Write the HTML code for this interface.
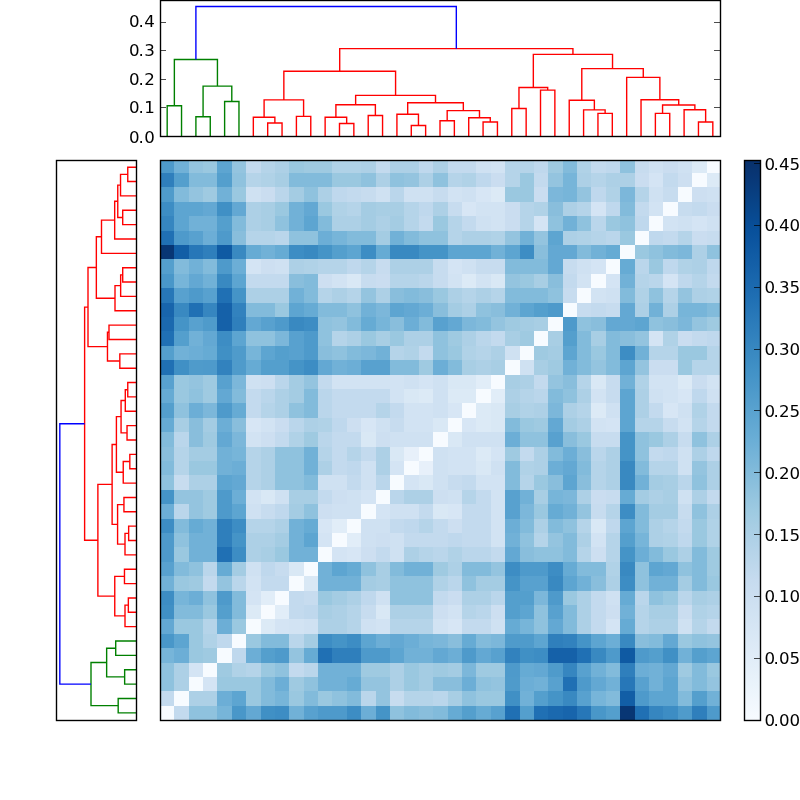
<!DOCTYPE html>
<html><head><meta charset="utf-8"><style>
html,body{margin:0;padding:0;background:#fff;}
body{width:800px;height:800px;overflow:hidden;}
svg{display:block;will-change:transform;}
text{font-family:"DejaVu Sans","Liberation Sans",sans-serif;font-size:16.67px;fill:#000;}
</style></head><body>
<svg width="800" height="800" viewBox="0 0 800 800">
<defs><linearGradient id="cb" x1="0" y1="1" x2="0" y2="0"><stop offset="0.0000" stop-color="#f7fbff"/><stop offset="0.0312" stop-color="#f1f7fd"/><stop offset="0.0625" stop-color="#eaf3fb"/><stop offset="0.0938" stop-color="#e4eff9"/><stop offset="0.1250" stop-color="#deebf7"/><stop offset="0.1562" stop-color="#d8e7f5"/><stop offset="0.1875" stop-color="#d2e3f3"/><stop offset="0.2188" stop-color="#ccdff1"/><stop offset="0.2500" stop-color="#c6dbef"/><stop offset="0.2812" stop-color="#bcd7eb"/><stop offset="0.3125" stop-color="#b2d2e8"/><stop offset="0.3438" stop-color="#a8cee4"/><stop offset="0.3750" stop-color="#9dcae1"/><stop offset="0.4062" stop-color="#91c3de"/><stop offset="0.4375" stop-color="#84bcdb"/><stop offset="0.4688" stop-color="#77b5d9"/><stop offset="0.5000" stop-color="#6aaed6"/><stop offset="0.5312" stop-color="#60a7d2"/><stop offset="0.5625" stop-color="#56a0ce"/><stop offset="0.5938" stop-color="#4b98ca"/><stop offset="0.6250" stop-color="#4191c6"/><stop offset="0.6562" stop-color="#3989c1"/><stop offset="0.6875" stop-color="#3181bd"/><stop offset="0.7188" stop-color="#2979b9"/><stop offset="0.7500" stop-color="#2070b4"/><stop offset="0.7812" stop-color="#1a68ae"/><stop offset="0.8125" stop-color="#1460a8"/><stop offset="0.8438" stop-color="#0e58a2"/><stop offset="0.8750" stop-color="#08509b"/><stop offset="0.9062" stop-color="#08488e"/><stop offset="0.9375" stop-color="#084082"/><stop offset="0.9688" stop-color="#083776"/><stop offset="1.0000" stop-color="#08306b"/></linearGradient></defs>
<rect x="0" y="0" width="800" height="800" fill="#fff"/>
<g shape-rendering="crispEdges">
<rect x="160" y="160" width="14" height="13" fill="#4e9acb"/>
<rect x="174" y="160" width="15" height="13" fill="#71b1d7"/>
<rect x="189" y="160" width="14" height="13" fill="#94c4df"/>
<rect x="203" y="160" width="14" height="13" fill="#9ac8e0"/>
<rect x="217" y="160" width="15" height="13" fill="#5da5d1"/>
<rect x="232" y="160" width="14" height="13" fill="#94c4df"/>
<rect x="246" y="160" width="15" height="13" fill="#c3daee"/>
<rect x="261" y="160" width="14" height="13" fill="#b5d4e9"/>
<rect x="275" y="160" width="14" height="13" fill="#add0e6"/>
<rect x="289" y="160" width="15" height="13" fill="#9ac8e0"/>
<rect x="304" y="160" width="14" height="13" fill="#9fcae1"/>
<rect x="318" y="160" width="14" height="13" fill="#9fcae1"/>
<rect x="332" y="160" width="15" height="13" fill="#b0d2e7"/>
<rect x="347" y="160" width="14" height="13" fill="#b0d2e7"/>
<rect x="361" y="160" width="15" height="13" fill="#add0e6"/>
<rect x="376" y="160" width="14" height="13" fill="#c3daee"/>
<rect x="390" y="160" width="14" height="13" fill="#add0e6"/>
<rect x="404" y="160" width="15" height="13" fill="#add0e6"/>
<rect x="419" y="160" width="14" height="13" fill="#bfd8ed"/>
<rect x="433" y="160" width="15" height="13" fill="#add0e6"/>
<rect x="448" y="160" width="14" height="13" fill="#c3daee"/>
<rect x="462" y="160" width="14" height="13" fill="#c3daee"/>
<rect x="476" y="160" width="15" height="13" fill="#cfe1f2"/>
<rect x="491" y="160" width="14" height="13" fill="#d2e3f3"/>
<rect x="505" y="160" width="15" height="13" fill="#b5d4e9"/>
<rect x="520" y="160" width="14" height="13" fill="#b5d4e9"/>
<rect x="534" y="160" width="14" height="13" fill="#bfd8ed"/>
<rect x="548" y="160" width="15" height="13" fill="#9fcae1"/>
<rect x="563" y="160" width="14" height="13" fill="#82bbdb"/>
<rect x="577" y="160" width="14" height="13" fill="#b0d2e7"/>
<rect x="591" y="160" width="15" height="13" fill="#c3daee"/>
<rect x="606" y="160" width="14" height="13" fill="#bfd8ed"/>
<rect x="620" y="160" width="15" height="13" fill="#8fc2de"/>
<rect x="635" y="160" width="14" height="13" fill="#c7dcef"/>
<rect x="649" y="160" width="14" height="13" fill="#cfe1f2"/>
<rect x="663" y="160" width="15" height="13" fill="#caddf0"/>
<rect x="678" y="160" width="14" height="13" fill="#cfe1f2"/>
<rect x="692" y="160" width="15" height="13" fill="#dceaf6"/>
<rect x="707" y="160" width="13" height="13" fill="#f7fbff"/>
<rect x="160" y="173" width="14" height="14" fill="#2f7fbc"/>
<rect x="174" y="173" width="15" height="14" fill="#549fcd"/>
<rect x="189" y="173" width="14" height="14" fill="#82bbdb"/>
<rect x="203" y="173" width="14" height="14" fill="#82bbdb"/>
<rect x="217" y="173" width="15" height="14" fill="#549fcd"/>
<rect x="232" y="173" width="14" height="14" fill="#8fc2de"/>
<rect x="246" y="173" width="15" height="14" fill="#b5d4e9"/>
<rect x="261" y="173" width="14" height="14" fill="#b0d2e7"/>
<rect x="275" y="173" width="14" height="14" fill="#a8cee4"/>
<rect x="289" y="173" width="15" height="14" fill="#82bbdb"/>
<rect x="304" y="173" width="14" height="14" fill="#82bbdb"/>
<rect x="318" y="173" width="14" height="14" fill="#82bbdb"/>
<rect x="332" y="173" width="15" height="14" fill="#9ac8e0"/>
<rect x="347" y="173" width="14" height="14" fill="#9ac8e0"/>
<rect x="361" y="173" width="15" height="14" fill="#8fc2de"/>
<rect x="376" y="173" width="14" height="14" fill="#add0e6"/>
<rect x="390" y="173" width="14" height="14" fill="#8fc2de"/>
<rect x="404" y="173" width="15" height="14" fill="#94c4df"/>
<rect x="419" y="173" width="14" height="14" fill="#add0e6"/>
<rect x="433" y="173" width="15" height="14" fill="#8fc2de"/>
<rect x="448" y="173" width="14" height="14" fill="#b5d4e9"/>
<rect x="462" y="173" width="14" height="14" fill="#b0d2e7"/>
<rect x="476" y="173" width="15" height="14" fill="#bfd8ed"/>
<rect x="491" y="173" width="14" height="14" fill="#caddf0"/>
<rect x="505" y="173" width="15" height="14" fill="#b5d4e9"/>
<rect x="520" y="173" width="14" height="14" fill="#9ac8e0"/>
<rect x="534" y="173" width="14" height="14" fill="#c3daee"/>
<rect x="548" y="173" width="15" height="14" fill="#94c4df"/>
<rect x="563" y="173" width="14" height="14" fill="#77b5d9"/>
<rect x="577" y="173" width="14" height="14" fill="#add0e6"/>
<rect x="591" y="173" width="15" height="14" fill="#b5d4e9"/>
<rect x="606" y="173" width="14" height="14" fill="#add0e6"/>
<rect x="620" y="173" width="15" height="14" fill="#add0e6"/>
<rect x="635" y="173" width="14" height="14" fill="#caddf0"/>
<rect x="649" y="173" width="14" height="14" fill="#d4e4f4"/>
<rect x="663" y="173" width="15" height="14" fill="#c3daee"/>
<rect x="678" y="173" width="14" height="14" fill="#cddff1"/>
<rect x="692" y="173" width="15" height="14" fill="#f7fbff"/>
<rect x="707" y="173" width="13" height="14" fill="#dceaf6"/>
<rect x="160" y="187" width="14" height="15" fill="#4f9bcb"/>
<rect x="174" y="187" width="15" height="15" fill="#82bbdb"/>
<rect x="189" y="187" width="14" height="15" fill="#94c4df"/>
<rect x="203" y="187" width="14" height="15" fill="#9fcae1"/>
<rect x="217" y="187" width="15" height="15" fill="#71b1d7"/>
<rect x="232" y="187" width="14" height="15" fill="#9ac8e0"/>
<rect x="246" y="187" width="15" height="15" fill="#cfe1f2"/>
<rect x="261" y="187" width="14" height="15" fill="#caddf0"/>
<rect x="275" y="187" width="14" height="15" fill="#bad6eb"/>
<rect x="289" y="187" width="15" height="15" fill="#a4cce3"/>
<rect x="304" y="187" width="14" height="15" fill="#8fc2de"/>
<rect x="318" y="187" width="14" height="15" fill="#add0e6"/>
<rect x="332" y="187" width="15" height="15" fill="#bfd8ed"/>
<rect x="347" y="187" width="14" height="15" fill="#c3daee"/>
<rect x="361" y="187" width="15" height="15" fill="#c7dcef"/>
<rect x="376" y="187" width="14" height="15" fill="#cfe1f2"/>
<rect x="390" y="187" width="14" height="15" fill="#bad6eb"/>
<rect x="404" y="187" width="15" height="15" fill="#cfe1f2"/>
<rect x="419" y="187" width="14" height="15" fill="#cfe1f2"/>
<rect x="433" y="187" width="15" height="15" fill="#c7dcef"/>
<rect x="448" y="187" width="14" height="15" fill="#d2e3f3"/>
<rect x="462" y="187" width="14" height="15" fill="#cfe1f2"/>
<rect x="476" y="187" width="15" height="15" fill="#d7e6f5"/>
<rect x="491" y="187" width="14" height="15" fill="#dceaf6"/>
<rect x="505" y="187" width="15" height="15" fill="#9ac8e0"/>
<rect x="520" y="187" width="14" height="15" fill="#9ac8e0"/>
<rect x="534" y="187" width="14" height="15" fill="#caddf0"/>
<rect x="548" y="187" width="15" height="15" fill="#7cb7da"/>
<rect x="563" y="187" width="14" height="15" fill="#77b5d9"/>
<rect x="577" y="187" width="14" height="15" fill="#94c4df"/>
<rect x="591" y="187" width="15" height="15" fill="#bfd8ed"/>
<rect x="606" y="187" width="14" height="15" fill="#b0d2e7"/>
<rect x="620" y="187" width="15" height="15" fill="#7cb7da"/>
<rect x="635" y="187" width="14" height="15" fill="#b5d4e9"/>
<rect x="649" y="187" width="14" height="15" fill="#cfe1f2"/>
<rect x="663" y="187" width="15" height="15" fill="#c7dcef"/>
<rect x="678" y="187" width="14" height="15" fill="#f7fbff"/>
<rect x="692" y="187" width="15" height="15" fill="#cddff1"/>
<rect x="707" y="187" width="13" height="15" fill="#cfe1f2"/>
<rect x="160" y="202" width="14" height="14" fill="#3d8dc4"/>
<rect x="174" y="202" width="15" height="14" fill="#5da5d1"/>
<rect x="189" y="202" width="14" height="14" fill="#5da5d1"/>
<rect x="203" y="202" width="14" height="14" fill="#63a8d3"/>
<rect x="217" y="202" width="15" height="14" fill="#4090c5"/>
<rect x="232" y="202" width="14" height="14" fill="#63a8d3"/>
<rect x="246" y="202" width="15" height="14" fill="#add0e6"/>
<rect x="261" y="202" width="14" height="14" fill="#a8cee4"/>
<rect x="275" y="202" width="14" height="14" fill="#9ac8e0"/>
<rect x="289" y="202" width="15" height="14" fill="#71b1d7"/>
<rect x="304" y="202" width="14" height="14" fill="#63a8d3"/>
<rect x="318" y="202" width="14" height="14" fill="#9ac8e0"/>
<rect x="332" y="202" width="15" height="14" fill="#b0d2e7"/>
<rect x="347" y="202" width="14" height="14" fill="#b5d4e9"/>
<rect x="361" y="202" width="15" height="14" fill="#a4cce3"/>
<rect x="376" y="202" width="14" height="14" fill="#a8cee4"/>
<rect x="390" y="202" width="14" height="14" fill="#a8cee4"/>
<rect x="404" y="202" width="15" height="14" fill="#b5d4e9"/>
<rect x="419" y="202" width="14" height="14" fill="#bfd8ed"/>
<rect x="433" y="202" width="15" height="14" fill="#add0e6"/>
<rect x="448" y="202" width="14" height="14" fill="#c7dcef"/>
<rect x="462" y="202" width="14" height="14" fill="#d7e6f5"/>
<rect x="476" y="202" width="15" height="14" fill="#d2e3f3"/>
<rect x="491" y="202" width="14" height="14" fill="#d2e3f3"/>
<rect x="505" y="202" width="15" height="14" fill="#caddf0"/>
<rect x="520" y="202" width="14" height="14" fill="#b5d4e9"/>
<rect x="534" y="202" width="14" height="14" fill="#b0d2e7"/>
<rect x="548" y="202" width="15" height="14" fill="#89bedc"/>
<rect x="563" y="202" width="14" height="14" fill="#add0e6"/>
<rect x="577" y="202" width="14" height="14" fill="#b5d4e9"/>
<rect x="591" y="202" width="15" height="14" fill="#d4e4f4"/>
<rect x="606" y="202" width="14" height="14" fill="#bfd8ed"/>
<rect x="620" y="202" width="15" height="14" fill="#82bbdb"/>
<rect x="635" y="202" width="14" height="14" fill="#c3daee"/>
<rect x="649" y="202" width="14" height="14" fill="#d2e3f3"/>
<rect x="663" y="202" width="15" height="14" fill="#f7fbff"/>
<rect x="678" y="202" width="14" height="14" fill="#c7dcef"/>
<rect x="692" y="202" width="15" height="14" fill="#c3daee"/>
<rect x="707" y="202" width="13" height="14" fill="#caddf0"/>
<rect x="160" y="216" width="14" height="15" fill="#3686c0"/>
<rect x="174" y="216" width="15" height="15" fill="#5da5d1"/>
<rect x="189" y="216" width="14" height="15" fill="#71b1d7"/>
<rect x="203" y="216" width="14" height="15" fill="#71b1d7"/>
<rect x="217" y="216" width="15" height="15" fill="#549fcd"/>
<rect x="232" y="216" width="14" height="15" fill="#82bbdb"/>
<rect x="246" y="216" width="15" height="15" fill="#add0e6"/>
<rect x="261" y="216" width="14" height="15" fill="#a8cee4"/>
<rect x="275" y="216" width="14" height="15" fill="#8fc2de"/>
<rect x="289" y="216" width="15" height="15" fill="#71b1d7"/>
<rect x="304" y="216" width="14" height="15" fill="#5da5d1"/>
<rect x="318" y="216" width="14" height="15" fill="#82bbdb"/>
<rect x="332" y="216" width="15" height="15" fill="#add0e6"/>
<rect x="347" y="216" width="14" height="15" fill="#add0e6"/>
<rect x="361" y="216" width="15" height="15" fill="#a4cce3"/>
<rect x="376" y="216" width="14" height="15" fill="#add0e6"/>
<rect x="390" y="216" width="14" height="15" fill="#a4cce3"/>
<rect x="404" y="216" width="15" height="15" fill="#b5d4e9"/>
<rect x="419" y="216" width="14" height="15" fill="#c3daee"/>
<rect x="433" y="216" width="15" height="15" fill="#9ac8e0"/>
<rect x="448" y="216" width="14" height="15" fill="#b5d4e9"/>
<rect x="462" y="216" width="14" height="15" fill="#c3daee"/>
<rect x="476" y="216" width="15" height="15" fill="#cfe1f2"/>
<rect x="491" y="216" width="14" height="15" fill="#d2e3f3"/>
<rect x="505" y="216" width="15" height="15" fill="#caddf0"/>
<rect x="520" y="216" width="14" height="15" fill="#b5d4e9"/>
<rect x="534" y="216" width="14" height="15" fill="#d4e4f4"/>
<rect x="548" y="216" width="15" height="15" fill="#8fc2de"/>
<rect x="563" y="216" width="14" height="15" fill="#71b1d7"/>
<rect x="577" y="216" width="14" height="15" fill="#8fc2de"/>
<rect x="591" y="216" width="15" height="15" fill="#bad6eb"/>
<rect x="606" y="216" width="14" height="15" fill="#9ac8e0"/>
<rect x="620" y="216" width="15" height="15" fill="#8fc2de"/>
<rect x="635" y="216" width="14" height="15" fill="#bfd8ed"/>
<rect x="649" y="216" width="14" height="15" fill="#f7fbff"/>
<rect x="663" y="216" width="15" height="15" fill="#d2e3f3"/>
<rect x="678" y="216" width="14" height="15" fill="#cfe1f2"/>
<rect x="692" y="216" width="15" height="15" fill="#d4e4f4"/>
<rect x="707" y="216" width="13" height="15" fill="#cfe1f2"/>
<rect x="160" y="231" width="14" height="14" fill="#2070b4"/>
<rect x="174" y="231" width="15" height="14" fill="#4e9acb"/>
<rect x="189" y="231" width="14" height="14" fill="#58a1cf"/>
<rect x="203" y="231" width="14" height="14" fill="#6caed6"/>
<rect x="217" y="231" width="15" height="14" fill="#4e9acb"/>
<rect x="232" y="231" width="14" height="14" fill="#89bedc"/>
<rect x="246" y="231" width="15" height="14" fill="#b5d4e9"/>
<rect x="261" y="231" width="14" height="14" fill="#b5d4e9"/>
<rect x="275" y="231" width="14" height="14" fill="#bad6eb"/>
<rect x="289" y="231" width="15" height="14" fill="#8fc2de"/>
<rect x="304" y="231" width="14" height="14" fill="#8fc2de"/>
<rect x="318" y="231" width="14" height="14" fill="#6caed6"/>
<rect x="332" y="231" width="15" height="14" fill="#77b5d9"/>
<rect x="347" y="231" width="14" height="14" fill="#82bbdb"/>
<rect x="361" y="231" width="15" height="14" fill="#82bbdb"/>
<rect x="376" y="231" width="14" height="14" fill="#a4cce3"/>
<rect x="390" y="231" width="14" height="14" fill="#71b1d7"/>
<rect x="404" y="231" width="15" height="14" fill="#82bbdb"/>
<rect x="419" y="231" width="14" height="14" fill="#8fc2de"/>
<rect x="433" y="231" width="15" height="14" fill="#8fc2de"/>
<rect x="448" y="231" width="14" height="14" fill="#b5d4e9"/>
<rect x="462" y="231" width="14" height="14" fill="#add0e6"/>
<rect x="476" y="231" width="15" height="14" fill="#add0e6"/>
<rect x="491" y="231" width="14" height="14" fill="#b0d2e7"/>
<rect x="505" y="231" width="15" height="14" fill="#94c4df"/>
<rect x="520" y="231" width="14" height="14" fill="#71b1d7"/>
<rect x="534" y="231" width="14" height="14" fill="#94c4df"/>
<rect x="548" y="231" width="15" height="14" fill="#5da5d1"/>
<rect x="563" y="231" width="14" height="14" fill="#add0e6"/>
<rect x="577" y="231" width="14" height="14" fill="#b0d2e7"/>
<rect x="591" y="231" width="15" height="14" fill="#b5d4e9"/>
<rect x="606" y="231" width="14" height="14" fill="#bad6eb"/>
<rect x="620" y="231" width="15" height="14" fill="#9ac8e0"/>
<rect x="635" y="231" width="14" height="14" fill="#f7fbff"/>
<rect x="649" y="231" width="14" height="14" fill="#bfd8ed"/>
<rect x="663" y="231" width="15" height="14" fill="#c3daee"/>
<rect x="678" y="231" width="14" height="14" fill="#b5d4e9"/>
<rect x="692" y="231" width="15" height="14" fill="#caddf0"/>
<rect x="707" y="231" width="13" height="14" fill="#c7dcef"/>
<rect x="160" y="245" width="14" height="14" fill="#083674"/>
<rect x="174" y="245" width="15" height="14" fill="#125ea6"/>
<rect x="189" y="245" width="14" height="14" fill="#2777b8"/>
<rect x="203" y="245" width="14" height="14" fill="#2f7fbc"/>
<rect x="217" y="245" width="15" height="14" fill="#0f5aa3"/>
<rect x="232" y="245" width="14" height="14" fill="#3989c1"/>
<rect x="246" y="245" width="15" height="14" fill="#66abd4"/>
<rect x="261" y="245" width="14" height="14" fill="#71b1d7"/>
<rect x="275" y="245" width="14" height="14" fill="#66abd4"/>
<rect x="289" y="245" width="15" height="14" fill="#3d8dc4"/>
<rect x="304" y="245" width="14" height="14" fill="#3989c1"/>
<rect x="318" y="245" width="14" height="14" fill="#4594c7"/>
<rect x="332" y="245" width="15" height="14" fill="#549fcd"/>
<rect x="347" y="245" width="14" height="14" fill="#5da5d1"/>
<rect x="361" y="245" width="15" height="14" fill="#3d8dc4"/>
<rect x="376" y="245" width="14" height="14" fill="#66abd4"/>
<rect x="390" y="245" width="14" height="14" fill="#3989c1"/>
<rect x="404" y="245" width="15" height="14" fill="#3989c1"/>
<rect x="419" y="245" width="14" height="14" fill="#4594c7"/>
<rect x="433" y="245" width="15" height="14" fill="#4594c7"/>
<rect x="448" y="245" width="14" height="14" fill="#5da5d1"/>
<rect x="462" y="245" width="14" height="14" fill="#5da5d1"/>
<rect x="476" y="245" width="15" height="14" fill="#5da5d1"/>
<rect x="491" y="245" width="14" height="14" fill="#71b1d7"/>
<rect x="505" y="245" width="15" height="14" fill="#5da5d1"/>
<rect x="520" y="245" width="14" height="14" fill="#3d8dc4"/>
<rect x="534" y="245" width="14" height="14" fill="#89bedc"/>
<rect x="548" y="245" width="15" height="14" fill="#63a8d3"/>
<rect x="563" y="245" width="14" height="14" fill="#63a8d3"/>
<rect x="577" y="245" width="14" height="14" fill="#82bbdb"/>
<rect x="591" y="245" width="15" height="14" fill="#71b1d7"/>
<rect x="606" y="245" width="14" height="14" fill="#66abd4"/>
<rect x="620" y="245" width="15" height="14" fill="#f7fbff"/>
<rect x="635" y="245" width="14" height="14" fill="#9ac8e0"/>
<rect x="649" y="245" width="14" height="14" fill="#8fc2de"/>
<rect x="663" y="245" width="15" height="14" fill="#82bbdb"/>
<rect x="678" y="245" width="14" height="14" fill="#7cb7da"/>
<rect x="692" y="245" width="15" height="14" fill="#add0e6"/>
<rect x="707" y="245" width="13" height="14" fill="#8fc2de"/>
<rect x="160" y="259" width="14" height="15" fill="#549fcd"/>
<rect x="174" y="259" width="15" height="15" fill="#82bbdb"/>
<rect x="189" y="259" width="14" height="15" fill="#71b1d7"/>
<rect x="203" y="259" width="14" height="15" fill="#82bbdb"/>
<rect x="217" y="259" width="15" height="15" fill="#4e9acb"/>
<rect x="232" y="259" width="14" height="15" fill="#6caed6"/>
<rect x="246" y="259" width="15" height="15" fill="#d4e4f4"/>
<rect x="261" y="259" width="14" height="15" fill="#cddff1"/>
<rect x="275" y="259" width="14" height="15" fill="#cfe1f2"/>
<rect x="289" y="259" width="15" height="15" fill="#add0e6"/>
<rect x="304" y="259" width="14" height="15" fill="#b0d2e7"/>
<rect x="318" y="259" width="14" height="15" fill="#b5d4e9"/>
<rect x="332" y="259" width="15" height="15" fill="#b5d4e9"/>
<rect x="347" y="259" width="14" height="15" fill="#bfd8ed"/>
<rect x="361" y="259" width="15" height="15" fill="#b5d4e9"/>
<rect x="376" y="259" width="14" height="15" fill="#c7dcef"/>
<rect x="390" y="259" width="14" height="15" fill="#add0e6"/>
<rect x="404" y="259" width="15" height="15" fill="#add0e6"/>
<rect x="419" y="259" width="14" height="15" fill="#add0e6"/>
<rect x="433" y="259" width="15" height="15" fill="#c7dcef"/>
<rect x="448" y="259" width="14" height="15" fill="#d4e4f4"/>
<rect x="462" y="259" width="14" height="15" fill="#cfe1f2"/>
<rect x="476" y="259" width="15" height="15" fill="#c7dcef"/>
<rect x="491" y="259" width="14" height="15" fill="#c7dcef"/>
<rect x="505" y="259" width="15" height="15" fill="#82bbdb"/>
<rect x="520" y="259" width="14" height="15" fill="#82bbdb"/>
<rect x="534" y="259" width="14" height="15" fill="#82bbdb"/>
<rect x="548" y="259" width="15" height="15" fill="#63a8d3"/>
<rect x="563" y="259" width="14" height="15" fill="#c7dcef"/>
<rect x="577" y="259" width="14" height="15" fill="#cfe1f2"/>
<rect x="591" y="259" width="15" height="15" fill="#d4e4f4"/>
<rect x="606" y="259" width="14" height="15" fill="#f7fbff"/>
<rect x="620" y="259" width="15" height="15" fill="#66abd4"/>
<rect x="635" y="259" width="14" height="15" fill="#bad6eb"/>
<rect x="649" y="259" width="14" height="15" fill="#9ac8e0"/>
<rect x="663" y="259" width="15" height="15" fill="#bfd8ed"/>
<rect x="678" y="259" width="14" height="15" fill="#b0d2e7"/>
<rect x="692" y="259" width="15" height="15" fill="#add0e6"/>
<rect x="707" y="259" width="13" height="15" fill="#bfd8ed"/>
<rect x="160" y="274" width="14" height="14" fill="#4997c9"/>
<rect x="174" y="274" width="15" height="14" fill="#77b5d9"/>
<rect x="189" y="274" width="14" height="14" fill="#63a8d3"/>
<rect x="203" y="274" width="14" height="14" fill="#71b1d7"/>
<rect x="217" y="274" width="15" height="14" fill="#3989c1"/>
<rect x="232" y="274" width="14" height="14" fill="#5da5d1"/>
<rect x="246" y="274" width="15" height="14" fill="#c3daee"/>
<rect x="261" y="274" width="14" height="14" fill="#c3daee"/>
<rect x="275" y="274" width="14" height="14" fill="#c3daee"/>
<rect x="289" y="274" width="15" height="14" fill="#89bedc"/>
<rect x="304" y="274" width="14" height="14" fill="#82bbdb"/>
<rect x="318" y="274" width="14" height="14" fill="#cddff1"/>
<rect x="332" y="274" width="15" height="14" fill="#d2e3f3"/>
<rect x="347" y="274" width="14" height="14" fill="#d9e8f5"/>
<rect x="361" y="274" width="15" height="14" fill="#c7dcef"/>
<rect x="376" y="274" width="14" height="14" fill="#caddf0"/>
<rect x="390" y="274" width="14" height="14" fill="#b5d4e9"/>
<rect x="404" y="274" width="15" height="14" fill="#b5d4e9"/>
<rect x="419" y="274" width="14" height="14" fill="#bad6eb"/>
<rect x="433" y="274" width="15" height="14" fill="#c7dcef"/>
<rect x="448" y="274" width="14" height="14" fill="#d2e3f3"/>
<rect x="462" y="274" width="14" height="14" fill="#dceaf6"/>
<rect x="476" y="274" width="15" height="14" fill="#d2e3f3"/>
<rect x="491" y="274" width="14" height="14" fill="#d9e8f5"/>
<rect x="505" y="274" width="15" height="14" fill="#94c4df"/>
<rect x="520" y="274" width="14" height="14" fill="#9ac8e0"/>
<rect x="534" y="274" width="14" height="14" fill="#a8cee4"/>
<rect x="548" y="274" width="15" height="14" fill="#89bedc"/>
<rect x="563" y="274" width="14" height="14" fill="#c3daee"/>
<rect x="577" y="274" width="14" height="14" fill="#d2e3f3"/>
<rect x="591" y="274" width="15" height="14" fill="#f7fbff"/>
<rect x="606" y="274" width="14" height="14" fill="#d4e4f4"/>
<rect x="620" y="274" width="15" height="14" fill="#71b1d7"/>
<rect x="635" y="274" width="14" height="14" fill="#b5d4e9"/>
<rect x="649" y="274" width="14" height="14" fill="#bad6eb"/>
<rect x="663" y="274" width="15" height="14" fill="#d4e4f4"/>
<rect x="678" y="274" width="14" height="14" fill="#bfd8ed"/>
<rect x="692" y="274" width="15" height="14" fill="#b5d4e9"/>
<rect x="707" y="274" width="13" height="14" fill="#c3daee"/>
<rect x="160" y="288" width="14" height="15" fill="#2777b8"/>
<rect x="174" y="288" width="15" height="15" fill="#58a1cf"/>
<rect x="189" y="288" width="14" height="15" fill="#4e9acb"/>
<rect x="203" y="288" width="14" height="15" fill="#58a1cf"/>
<rect x="217" y="288" width="15" height="15" fill="#2070b4"/>
<rect x="232" y="288" width="14" height="15" fill="#4594c7"/>
<rect x="246" y="288" width="15" height="15" fill="#add0e6"/>
<rect x="261" y="288" width="14" height="15" fill="#add0e6"/>
<rect x="275" y="288" width="14" height="15" fill="#add0e6"/>
<rect x="289" y="288" width="15" height="15" fill="#71b1d7"/>
<rect x="304" y="288" width="14" height="15" fill="#82bbdb"/>
<rect x="318" y="288" width="14" height="15" fill="#b5d4e9"/>
<rect x="332" y="288" width="15" height="15" fill="#add0e6"/>
<rect x="347" y="288" width="14" height="15" fill="#b5d4e9"/>
<rect x="361" y="288" width="15" height="15" fill="#94c4df"/>
<rect x="376" y="288" width="14" height="15" fill="#add0e6"/>
<rect x="390" y="288" width="14" height="15" fill="#89bedc"/>
<rect x="404" y="288" width="15" height="15" fill="#82bbdb"/>
<rect x="419" y="288" width="14" height="15" fill="#89bedc"/>
<rect x="433" y="288" width="15" height="15" fill="#9ac8e0"/>
<rect x="448" y="288" width="14" height="15" fill="#add0e6"/>
<rect x="462" y="288" width="14" height="15" fill="#b5d4e9"/>
<rect x="476" y="288" width="15" height="15" fill="#add0e6"/>
<rect x="491" y="288" width="14" height="15" fill="#b5d4e9"/>
<rect x="505" y="288" width="15" height="15" fill="#82bbdb"/>
<rect x="520" y="288" width="14" height="15" fill="#82bbdb"/>
<rect x="534" y="288" width="14" height="15" fill="#82bbdb"/>
<rect x="548" y="288" width="15" height="15" fill="#8fc2de"/>
<rect x="563" y="288" width="14" height="15" fill="#c7dcef"/>
<rect x="577" y="288" width="14" height="15" fill="#f7fbff"/>
<rect x="591" y="288" width="15" height="15" fill="#d2e3f3"/>
<rect x="606" y="288" width="14" height="15" fill="#cfe1f2"/>
<rect x="620" y="288" width="15" height="15" fill="#82bbdb"/>
<rect x="635" y="288" width="14" height="15" fill="#b0d2e7"/>
<rect x="649" y="288" width="14" height="15" fill="#8fc2de"/>
<rect x="663" y="288" width="15" height="15" fill="#b5d4e9"/>
<rect x="678" y="288" width="14" height="15" fill="#94c4df"/>
<rect x="692" y="288" width="15" height="15" fill="#add0e6"/>
<rect x="707" y="288" width="13" height="15" fill="#b0d2e7"/>
<rect x="160" y="303" width="14" height="14" fill="#1865ac"/>
<rect x="174" y="303" width="15" height="14" fill="#3989c1"/>
<rect x="189" y="303" width="14" height="14" fill="#2070b4"/>
<rect x="203" y="303" width="14" height="14" fill="#3686c0"/>
<rect x="217" y="303" width="15" height="14" fill="#1561a9"/>
<rect x="232" y="303" width="14" height="14" fill="#3282be"/>
<rect x="246" y="303" width="15" height="14" fill="#82bbdb"/>
<rect x="261" y="303" width="14" height="14" fill="#82bbdb"/>
<rect x="275" y="303" width="14" height="14" fill="#9ac8e0"/>
<rect x="289" y="303" width="15" height="14" fill="#5da5d1"/>
<rect x="304" y="303" width="14" height="14" fill="#66abd4"/>
<rect x="318" y="303" width="14" height="14" fill="#82bbdb"/>
<rect x="332" y="303" width="15" height="14" fill="#82bbdb"/>
<rect x="347" y="303" width="14" height="14" fill="#8fc2de"/>
<rect x="361" y="303" width="15" height="14" fill="#71b1d7"/>
<rect x="376" y="303" width="14" height="14" fill="#7cb7da"/>
<rect x="390" y="303" width="14" height="14" fill="#5da5d1"/>
<rect x="404" y="303" width="15" height="14" fill="#63a8d3"/>
<rect x="419" y="303" width="14" height="14" fill="#6caed6"/>
<rect x="433" y="303" width="15" height="14" fill="#89bedc"/>
<rect x="448" y="303" width="14" height="14" fill="#a4cce3"/>
<rect x="462" y="303" width="14" height="14" fill="#add0e6"/>
<rect x="476" y="303" width="15" height="14" fill="#8fc2de"/>
<rect x="491" y="303" width="14" height="14" fill="#89bedc"/>
<rect x="505" y="303" width="15" height="14" fill="#71b1d7"/>
<rect x="520" y="303" width="14" height="14" fill="#5da5d1"/>
<rect x="534" y="303" width="14" height="14" fill="#549fcd"/>
<rect x="548" y="303" width="15" height="14" fill="#4e9acb"/>
<rect x="563" y="303" width="14" height="14" fill="#f7fbff"/>
<rect x="577" y="303" width="14" height="14" fill="#c7dcef"/>
<rect x="591" y="303" width="15" height="14" fill="#c3daee"/>
<rect x="606" y="303" width="14" height="14" fill="#c7dcef"/>
<rect x="620" y="303" width="15" height="14" fill="#63a8d3"/>
<rect x="635" y="303" width="14" height="14" fill="#add0e6"/>
<rect x="649" y="303" width="14" height="14" fill="#71b1d7"/>
<rect x="663" y="303" width="15" height="14" fill="#add0e6"/>
<rect x="678" y="303" width="14" height="14" fill="#77b5d9"/>
<rect x="692" y="303" width="15" height="14" fill="#77b5d9"/>
<rect x="707" y="303" width="13" height="14" fill="#82bbdb"/>
<rect x="160" y="317" width="14" height="14" fill="#1b69af"/>
<rect x="174" y="317" width="15" height="14" fill="#4594c7"/>
<rect x="189" y="317" width="14" height="14" fill="#58a1cf"/>
<rect x="203" y="317" width="14" height="14" fill="#4f9bcb"/>
<rect x="217" y="317" width="15" height="14" fill="#1561a9"/>
<rect x="232" y="317" width="14" height="14" fill="#2f7fbc"/>
<rect x="246" y="317" width="15" height="14" fill="#63a8d3"/>
<rect x="261" y="317" width="14" height="14" fill="#58a1cf"/>
<rect x="275" y="317" width="14" height="14" fill="#4e9acb"/>
<rect x="289" y="317" width="15" height="14" fill="#3989c1"/>
<rect x="304" y="317" width="14" height="14" fill="#3d8dc4"/>
<rect x="318" y="317" width="14" height="14" fill="#8fc2de"/>
<rect x="332" y="317" width="15" height="14" fill="#94c4df"/>
<rect x="347" y="317" width="14" height="14" fill="#82bbdb"/>
<rect x="361" y="317" width="15" height="14" fill="#66abd4"/>
<rect x="376" y="317" width="14" height="14" fill="#77b5d9"/>
<rect x="390" y="317" width="14" height="14" fill="#89bedc"/>
<rect x="404" y="317" width="15" height="14" fill="#6caed6"/>
<rect x="419" y="317" width="14" height="14" fill="#82bbdb"/>
<rect x="433" y="317" width="15" height="14" fill="#58a1cf"/>
<rect x="448" y="317" width="14" height="14" fill="#63a8d3"/>
<rect x="462" y="317" width="14" height="14" fill="#7cb7da"/>
<rect x="476" y="317" width="15" height="14" fill="#82bbdb"/>
<rect x="491" y="317" width="14" height="14" fill="#94c4df"/>
<rect x="505" y="317" width="15" height="14" fill="#9fcae1"/>
<rect x="520" y="317" width="14" height="14" fill="#a4cce3"/>
<rect x="534" y="317" width="14" height="14" fill="#a8cee4"/>
<rect x="548" y="317" width="15" height="14" fill="#f7fbff"/>
<rect x="563" y="317" width="14" height="14" fill="#4e9acb"/>
<rect x="577" y="317" width="14" height="14" fill="#8fc2de"/>
<rect x="591" y="317" width="15" height="14" fill="#89bedc"/>
<rect x="606" y="317" width="14" height="14" fill="#63a8d3"/>
<rect x="620" y="317" width="15" height="14" fill="#63a8d3"/>
<rect x="635" y="317" width="14" height="14" fill="#5da5d1"/>
<rect x="649" y="317" width="14" height="14" fill="#8fc2de"/>
<rect x="663" y="317" width="15" height="14" fill="#89bedc"/>
<rect x="678" y="317" width="14" height="14" fill="#7cb7da"/>
<rect x="692" y="317" width="15" height="14" fill="#94c4df"/>
<rect x="707" y="317" width="13" height="14" fill="#9fcae1"/>
<rect x="160" y="331" width="14" height="15" fill="#2070b4"/>
<rect x="174" y="331" width="15" height="15" fill="#549fcd"/>
<rect x="189" y="331" width="14" height="15" fill="#71b1d7"/>
<rect x="203" y="331" width="14" height="15" fill="#63a8d3"/>
<rect x="217" y="331" width="15" height="15" fill="#3d8dc4"/>
<rect x="232" y="331" width="14" height="15" fill="#5da5d1"/>
<rect x="246" y="331" width="15" height="15" fill="#8fc2de"/>
<rect x="261" y="331" width="14" height="15" fill="#8fc2de"/>
<rect x="275" y="331" width="14" height="15" fill="#7cb7da"/>
<rect x="289" y="331" width="15" height="15" fill="#58a1cf"/>
<rect x="304" y="331" width="14" height="15" fill="#4e9acb"/>
<rect x="318" y="331" width="14" height="15" fill="#8fc2de"/>
<rect x="332" y="331" width="15" height="15" fill="#b5d4e9"/>
<rect x="347" y="331" width="14" height="15" fill="#add0e6"/>
<rect x="361" y="331" width="15" height="15" fill="#9ac8e0"/>
<rect x="376" y="331" width="14" height="15" fill="#a8cee4"/>
<rect x="390" y="331" width="14" height="15" fill="#9ac8e0"/>
<rect x="404" y="331" width="15" height="15" fill="#add0e6"/>
<rect x="419" y="331" width="14" height="15" fill="#add0e6"/>
<rect x="433" y="331" width="15" height="15" fill="#8fc2de"/>
<rect x="448" y="331" width="14" height="15" fill="#9fcae1"/>
<rect x="462" y="331" width="14" height="15" fill="#add0e6"/>
<rect x="476" y="331" width="15" height="15" fill="#bad6eb"/>
<rect x="491" y="331" width="14" height="15" fill="#c3daee"/>
<rect x="505" y="331" width="15" height="15" fill="#a8cee4"/>
<rect x="520" y="331" width="14" height="15" fill="#9fcae1"/>
<rect x="534" y="331" width="14" height="15" fill="#f7fbff"/>
<rect x="548" y="331" width="15" height="15" fill="#a8cee4"/>
<rect x="563" y="331" width="14" height="15" fill="#549fcd"/>
<rect x="577" y="331" width="14" height="15" fill="#82bbdb"/>
<rect x="591" y="331" width="15" height="15" fill="#a8cee4"/>
<rect x="606" y="331" width="14" height="15" fill="#82bbdb"/>
<rect x="620" y="331" width="15" height="15" fill="#89bedc"/>
<rect x="635" y="331" width="14" height="15" fill="#94c4df"/>
<rect x="649" y="331" width="14" height="15" fill="#d4e4f4"/>
<rect x="663" y="331" width="15" height="15" fill="#b0d2e7"/>
<rect x="678" y="331" width="14" height="15" fill="#caddf0"/>
<rect x="692" y="331" width="15" height="15" fill="#c3daee"/>
<rect x="707" y="331" width="13" height="15" fill="#bfd8ed"/>
<rect x="160" y="346" width="14" height="14" fill="#549fcd"/>
<rect x="174" y="346" width="15" height="14" fill="#71b1d7"/>
<rect x="189" y="346" width="14" height="14" fill="#6caed6"/>
<rect x="203" y="346" width="14" height="14" fill="#66abd4"/>
<rect x="217" y="346" width="15" height="14" fill="#4090c5"/>
<rect x="232" y="346" width="14" height="14" fill="#4f9bcb"/>
<rect x="246" y="346" width="15" height="14" fill="#77b5d9"/>
<rect x="261" y="346" width="14" height="14" fill="#5da5d1"/>
<rect x="275" y="346" width="14" height="14" fill="#549fcd"/>
<rect x="289" y="346" width="15" height="14" fill="#58a1cf"/>
<rect x="304" y="346" width="14" height="14" fill="#4e9acb"/>
<rect x="318" y="346" width="14" height="14" fill="#89bedc"/>
<rect x="332" y="346" width="15" height="14" fill="#8fc2de"/>
<rect x="347" y="346" width="14" height="14" fill="#82bbdb"/>
<rect x="361" y="346" width="15" height="14" fill="#7cb7da"/>
<rect x="376" y="346" width="14" height="14" fill="#71b1d7"/>
<rect x="390" y="346" width="14" height="14" fill="#b5d4e9"/>
<rect x="404" y="346" width="15" height="14" fill="#b0d2e7"/>
<rect x="419" y="346" width="14" height="14" fill="#c3daee"/>
<rect x="433" y="346" width="15" height="14" fill="#8fc2de"/>
<rect x="448" y="346" width="14" height="14" fill="#9ac8e0"/>
<rect x="462" y="346" width="14" height="14" fill="#b0d2e7"/>
<rect x="476" y="346" width="15" height="14" fill="#b5d4e9"/>
<rect x="491" y="346" width="14" height="14" fill="#add0e6"/>
<rect x="505" y="346" width="15" height="14" fill="#cfe1f2"/>
<rect x="520" y="346" width="14" height="14" fill="#f7fbff"/>
<rect x="534" y="346" width="14" height="14" fill="#9fcae1"/>
<rect x="548" y="346" width="15" height="14" fill="#a4cce3"/>
<rect x="563" y="346" width="14" height="14" fill="#5da5d1"/>
<rect x="577" y="346" width="14" height="14" fill="#82bbdb"/>
<rect x="591" y="346" width="15" height="14" fill="#9ac8e0"/>
<rect x="606" y="346" width="14" height="14" fill="#82bbdb"/>
<rect x="620" y="346" width="15" height="14" fill="#3d8dc4"/>
<rect x="635" y="346" width="14" height="14" fill="#71b1d7"/>
<rect x="649" y="346" width="14" height="14" fill="#b5d4e9"/>
<rect x="663" y="346" width="15" height="14" fill="#b5d4e9"/>
<rect x="678" y="346" width="14" height="14" fill="#9ac8e0"/>
<rect x="692" y="346" width="15" height="14" fill="#9ac8e0"/>
<rect x="707" y="346" width="13" height="14" fill="#b5d4e9"/>
<rect x="160" y="360" width="14" height="15" fill="#2070b4"/>
<rect x="174" y="360" width="15" height="15" fill="#4090c5"/>
<rect x="189" y="360" width="14" height="15" fill="#4f9bcb"/>
<rect x="203" y="360" width="14" height="15" fill="#4e9acb"/>
<rect x="217" y="360" width="15" height="15" fill="#3282be"/>
<rect x="232" y="360" width="14" height="15" fill="#4f9bcb"/>
<rect x="246" y="360" width="15" height="15" fill="#66abd4"/>
<rect x="261" y="360" width="14" height="15" fill="#549fcd"/>
<rect x="275" y="360" width="14" height="15" fill="#549fcd"/>
<rect x="289" y="360" width="15" height="15" fill="#4594c7"/>
<rect x="304" y="360" width="14" height="15" fill="#3d8dc4"/>
<rect x="318" y="360" width="14" height="15" fill="#63a8d3"/>
<rect x="332" y="360" width="15" height="15" fill="#71b1d7"/>
<rect x="347" y="360" width="14" height="15" fill="#6caed6"/>
<rect x="361" y="360" width="15" height="15" fill="#58a1cf"/>
<rect x="376" y="360" width="14" height="15" fill="#58a1cf"/>
<rect x="390" y="360" width="14" height="15" fill="#82bbdb"/>
<rect x="404" y="360" width="15" height="15" fill="#82bbdb"/>
<rect x="419" y="360" width="14" height="15" fill="#9fcae1"/>
<rect x="433" y="360" width="15" height="15" fill="#6caed6"/>
<rect x="448" y="360" width="14" height="15" fill="#82bbdb"/>
<rect x="462" y="360" width="14" height="15" fill="#a8cee4"/>
<rect x="476" y="360" width="15" height="15" fill="#add0e6"/>
<rect x="491" y="360" width="14" height="15" fill="#a8cee4"/>
<rect x="505" y="360" width="15" height="15" fill="#f7fbff"/>
<rect x="520" y="360" width="14" height="15" fill="#cfe1f2"/>
<rect x="534" y="360" width="14" height="15" fill="#a8cee4"/>
<rect x="548" y="360" width="15" height="15" fill="#9fcae1"/>
<rect x="563" y="360" width="14" height="15" fill="#71b1d7"/>
<rect x="577" y="360" width="14" height="15" fill="#82bbdb"/>
<rect x="591" y="360" width="15" height="15" fill="#94c4df"/>
<rect x="606" y="360" width="14" height="15" fill="#82bbdb"/>
<rect x="620" y="360" width="15" height="15" fill="#5da5d1"/>
<rect x="635" y="360" width="14" height="15" fill="#94c4df"/>
<rect x="649" y="360" width="14" height="15" fill="#caddf0"/>
<rect x="663" y="360" width="15" height="15" fill="#caddf0"/>
<rect x="678" y="360" width="14" height="15" fill="#9ac8e0"/>
<rect x="692" y="360" width="15" height="15" fill="#b5d4e9"/>
<rect x="707" y="360" width="13" height="15" fill="#b5d4e9"/>
<rect x="160" y="375" width="14" height="14" fill="#58a1cf"/>
<rect x="174" y="375" width="15" height="14" fill="#9ac8e0"/>
<rect x="189" y="375" width="14" height="14" fill="#94c4df"/>
<rect x="203" y="375" width="14" height="14" fill="#9fcae1"/>
<rect x="217" y="375" width="15" height="14" fill="#58a1cf"/>
<rect x="232" y="375" width="14" height="14" fill="#7cb7da"/>
<rect x="246" y="375" width="15" height="14" fill="#cfe1f2"/>
<rect x="261" y="375" width="14" height="14" fill="#cddff1"/>
<rect x="275" y="375" width="14" height="14" fill="#bad6eb"/>
<rect x="289" y="375" width="15" height="14" fill="#a4cce3"/>
<rect x="304" y="375" width="14" height="14" fill="#94c4df"/>
<rect x="318" y="375" width="14" height="14" fill="#c3daee"/>
<rect x="332" y="375" width="15" height="14" fill="#d2e3f3"/>
<rect x="347" y="375" width="14" height="14" fill="#d2e3f3"/>
<rect x="361" y="375" width="15" height="14" fill="#d2e3f3"/>
<rect x="376" y="375" width="14" height="14" fill="#d2e3f3"/>
<rect x="390" y="375" width="14" height="14" fill="#d2e3f3"/>
<rect x="404" y="375" width="15" height="14" fill="#cfe1f2"/>
<rect x="419" y="375" width="14" height="14" fill="#d4e4f4"/>
<rect x="433" y="375" width="15" height="14" fill="#cfe1f2"/>
<rect x="448" y="375" width="14" height="14" fill="#d9e8f5"/>
<rect x="462" y="375" width="14" height="14" fill="#d9e8f5"/>
<rect x="476" y="375" width="15" height="14" fill="#e1edf8"/>
<rect x="491" y="375" width="14" height="14" fill="#f7fbff"/>
<rect x="505" y="375" width="15" height="14" fill="#a8cee4"/>
<rect x="520" y="375" width="14" height="14" fill="#add0e6"/>
<rect x="534" y="375" width="14" height="14" fill="#c3daee"/>
<rect x="548" y="375" width="15" height="14" fill="#94c4df"/>
<rect x="563" y="375" width="14" height="14" fill="#89bedc"/>
<rect x="577" y="375" width="14" height="14" fill="#b5d4e9"/>
<rect x="591" y="375" width="15" height="14" fill="#d9e8f5"/>
<rect x="606" y="375" width="14" height="14" fill="#c7dcef"/>
<rect x="620" y="375" width="15" height="14" fill="#71b1d7"/>
<rect x="635" y="375" width="14" height="14" fill="#b0d2e7"/>
<rect x="649" y="375" width="14" height="14" fill="#d2e3f3"/>
<rect x="663" y="375" width="15" height="14" fill="#d2e3f3"/>
<rect x="678" y="375" width="14" height="14" fill="#dceaf6"/>
<rect x="692" y="375" width="15" height="14" fill="#caddf0"/>
<rect x="707" y="375" width="13" height="14" fill="#d2e3f3"/>
<rect x="160" y="389" width="14" height="14" fill="#66abd4"/>
<rect x="174" y="389" width="15" height="14" fill="#9ac8e0"/>
<rect x="189" y="389" width="14" height="14" fill="#8fc2de"/>
<rect x="203" y="389" width="14" height="14" fill="#9fcae1"/>
<rect x="217" y="389" width="15" height="14" fill="#63a8d3"/>
<rect x="232" y="389" width="14" height="14" fill="#82bbdb"/>
<rect x="246" y="389" width="15" height="14" fill="#c3daee"/>
<rect x="261" y="389" width="14" height="14" fill="#bad6eb"/>
<rect x="275" y="389" width="14" height="14" fill="#add0e6"/>
<rect x="289" y="389" width="15" height="14" fill="#a4cce3"/>
<rect x="304" y="389" width="14" height="14" fill="#82bbdb"/>
<rect x="318" y="389" width="14" height="14" fill="#bad6eb"/>
<rect x="332" y="389" width="15" height="14" fill="#c3daee"/>
<rect x="347" y="389" width="14" height="14" fill="#c3daee"/>
<rect x="361" y="389" width="15" height="14" fill="#c3daee"/>
<rect x="376" y="389" width="14" height="14" fill="#c3daee"/>
<rect x="390" y="389" width="14" height="14" fill="#d2e3f3"/>
<rect x="404" y="389" width="15" height="14" fill="#d9e8f5"/>
<rect x="419" y="389" width="14" height="14" fill="#dceaf6"/>
<rect x="433" y="389" width="15" height="14" fill="#cfe1f2"/>
<rect x="448" y="389" width="14" height="14" fill="#dceaf6"/>
<rect x="462" y="389" width="14" height="14" fill="#dceaf6"/>
<rect x="476" y="389" width="15" height="14" fill="#f7fbff"/>
<rect x="491" y="389" width="14" height="14" fill="#e1edf8"/>
<rect x="505" y="389" width="15" height="14" fill="#add0e6"/>
<rect x="520" y="389" width="14" height="14" fill="#b5d4e9"/>
<rect x="534" y="389" width="14" height="14" fill="#bad6eb"/>
<rect x="548" y="389" width="15" height="14" fill="#82bbdb"/>
<rect x="563" y="389" width="14" height="14" fill="#8fc2de"/>
<rect x="577" y="389" width="14" height="14" fill="#add0e6"/>
<rect x="591" y="389" width="15" height="14" fill="#d2e3f3"/>
<rect x="606" y="389" width="14" height="14" fill="#c7dcef"/>
<rect x="620" y="389" width="15" height="14" fill="#5da5d1"/>
<rect x="635" y="389" width="14" height="14" fill="#add0e6"/>
<rect x="649" y="389" width="14" height="14" fill="#cfe1f2"/>
<rect x="663" y="389" width="15" height="14" fill="#d2e3f3"/>
<rect x="678" y="389" width="14" height="14" fill="#d7e6f5"/>
<rect x="692" y="389" width="15" height="14" fill="#bfd8ed"/>
<rect x="707" y="389" width="13" height="14" fill="#cfe1f2"/>
<rect x="160" y="403" width="14" height="15" fill="#549fcd"/>
<rect x="174" y="403" width="15" height="15" fill="#8fc2de"/>
<rect x="189" y="403" width="14" height="15" fill="#6caed6"/>
<rect x="203" y="403" width="14" height="15" fill="#7cb7da"/>
<rect x="217" y="403" width="15" height="15" fill="#4e9acb"/>
<rect x="232" y="403" width="14" height="15" fill="#66abd4"/>
<rect x="246" y="403" width="15" height="15" fill="#c3daee"/>
<rect x="261" y="403" width="14" height="15" fill="#b5d4e9"/>
<rect x="275" y="403" width="14" height="15" fill="#add0e6"/>
<rect x="289" y="403" width="15" height="15" fill="#8fc2de"/>
<rect x="304" y="403" width="14" height="15" fill="#82bbdb"/>
<rect x="318" y="403" width="14" height="15" fill="#bad6eb"/>
<rect x="332" y="403" width="15" height="15" fill="#c3daee"/>
<rect x="347" y="403" width="14" height="15" fill="#c3daee"/>
<rect x="361" y="403" width="15" height="15" fill="#c3daee"/>
<rect x="376" y="403" width="14" height="15" fill="#b5d4e9"/>
<rect x="390" y="403" width="14" height="15" fill="#c3daee"/>
<rect x="404" y="403" width="15" height="15" fill="#d2e3f3"/>
<rect x="419" y="403" width="14" height="15" fill="#d2e3f3"/>
<rect x="433" y="403" width="15" height="15" fill="#cfe1f2"/>
<rect x="448" y="403" width="14" height="15" fill="#d7e6f5"/>
<rect x="462" y="403" width="14" height="15" fill="#f7fbff"/>
<rect x="476" y="403" width="15" height="15" fill="#dceaf6"/>
<rect x="491" y="403" width="14" height="15" fill="#d9e8f5"/>
<rect x="505" y="403" width="15" height="15" fill="#a8cee4"/>
<rect x="520" y="403" width="14" height="15" fill="#b0d2e7"/>
<rect x="534" y="403" width="14" height="15" fill="#add0e6"/>
<rect x="548" y="403" width="15" height="15" fill="#7cb7da"/>
<rect x="563" y="403" width="14" height="15" fill="#add0e6"/>
<rect x="577" y="403" width="14" height="15" fill="#b5d4e9"/>
<rect x="591" y="403" width="15" height="15" fill="#dceaf6"/>
<rect x="606" y="403" width="14" height="15" fill="#cfe1f2"/>
<rect x="620" y="403" width="15" height="15" fill="#5da5d1"/>
<rect x="635" y="403" width="14" height="15" fill="#add0e6"/>
<rect x="649" y="403" width="14" height="15" fill="#c3daee"/>
<rect x="663" y="403" width="15" height="15" fill="#d7e6f5"/>
<rect x="678" y="403" width="14" height="15" fill="#cfe1f2"/>
<rect x="692" y="403" width="15" height="15" fill="#b0d2e7"/>
<rect x="707" y="403" width="13" height="15" fill="#c3daee"/>
<rect x="160" y="418" width="14" height="14" fill="#66abd4"/>
<rect x="174" y="418" width="15" height="14" fill="#a8cee4"/>
<rect x="189" y="418" width="14" height="14" fill="#89bedc"/>
<rect x="203" y="418" width="14" height="14" fill="#a4cce3"/>
<rect x="217" y="418" width="15" height="14" fill="#6caed6"/>
<rect x="232" y="418" width="14" height="14" fill="#89bedc"/>
<rect x="246" y="418" width="15" height="14" fill="#d7e6f5"/>
<rect x="261" y="418" width="14" height="14" fill="#d2e3f3"/>
<rect x="275" y="418" width="14" height="14" fill="#caddf0"/>
<rect x="289" y="418" width="15" height="14" fill="#bad6eb"/>
<rect x="304" y="418" width="14" height="14" fill="#add0e6"/>
<rect x="318" y="418" width="14" height="14" fill="#b0d2e7"/>
<rect x="332" y="418" width="15" height="14" fill="#bfd8ed"/>
<rect x="347" y="418" width="14" height="14" fill="#cddff1"/>
<rect x="361" y="418" width="15" height="14" fill="#d7e6f5"/>
<rect x="376" y="418" width="14" height="14" fill="#cfe1f2"/>
<rect x="390" y="418" width="14" height="14" fill="#c7dcef"/>
<rect x="404" y="418" width="15" height="14" fill="#d2e3f3"/>
<rect x="419" y="418" width="14" height="14" fill="#d2e3f3"/>
<rect x="433" y="418" width="15" height="14" fill="#d9e8f5"/>
<rect x="448" y="418" width="14" height="14" fill="#f7fbff"/>
<rect x="462" y="418" width="14" height="14" fill="#d7e6f5"/>
<rect x="476" y="418" width="15" height="14" fill="#dceaf6"/>
<rect x="491" y="418" width="14" height="14" fill="#d9e8f5"/>
<rect x="505" y="418" width="15" height="14" fill="#82bbdb"/>
<rect x="520" y="418" width="14" height="14" fill="#9ac8e0"/>
<rect x="534" y="418" width="14" height="14" fill="#9fcae1"/>
<rect x="548" y="418" width="15" height="14" fill="#63a8d3"/>
<rect x="563" y="418" width="14" height="14" fill="#a4cce3"/>
<rect x="577" y="418" width="14" height="14" fill="#add0e6"/>
<rect x="591" y="418" width="15" height="14" fill="#d2e3f3"/>
<rect x="606" y="418" width="14" height="14" fill="#d4e4f4"/>
<rect x="620" y="418" width="15" height="14" fill="#5da5d1"/>
<rect x="635" y="418" width="14" height="14" fill="#b5d4e9"/>
<rect x="649" y="418" width="14" height="14" fill="#b5d4e9"/>
<rect x="663" y="418" width="15" height="14" fill="#c7dcef"/>
<rect x="678" y="418" width="14" height="14" fill="#d2e3f3"/>
<rect x="692" y="418" width="15" height="14" fill="#b5d4e9"/>
<rect x="707" y="418" width="13" height="14" fill="#c3daee"/>
<rect x="160" y="432" width="14" height="15" fill="#82bbdb"/>
<rect x="174" y="432" width="15" height="15" fill="#bad6eb"/>
<rect x="189" y="432" width="14" height="15" fill="#89bedc"/>
<rect x="203" y="432" width="14" height="15" fill="#9fcae1"/>
<rect x="217" y="432" width="15" height="15" fill="#63a8d3"/>
<rect x="232" y="432" width="14" height="15" fill="#7cb7da"/>
<rect x="246" y="432" width="15" height="15" fill="#d2e3f3"/>
<rect x="261" y="432" width="14" height="15" fill="#cddff1"/>
<rect x="275" y="432" width="14" height="15" fill="#c3daee"/>
<rect x="289" y="432" width="15" height="15" fill="#b0d2e7"/>
<rect x="304" y="432" width="14" height="15" fill="#9fcae1"/>
<rect x="318" y="432" width="14" height="15" fill="#bad6eb"/>
<rect x="332" y="432" width="15" height="15" fill="#c3daee"/>
<rect x="347" y="432" width="14" height="15" fill="#c3daee"/>
<rect x="361" y="432" width="15" height="15" fill="#d9e8f5"/>
<rect x="376" y="432" width="14" height="15" fill="#cddff1"/>
<rect x="390" y="432" width="14" height="15" fill="#cfe1f2"/>
<rect x="404" y="432" width="15" height="15" fill="#cfe1f2"/>
<rect x="419" y="432" width="14" height="15" fill="#cfe1f2"/>
<rect x="433" y="432" width="15" height="15" fill="#f7fbff"/>
<rect x="448" y="432" width="14" height="15" fill="#d9e8f5"/>
<rect x="462" y="432" width="14" height="15" fill="#cfe1f2"/>
<rect x="476" y="432" width="15" height="15" fill="#cfe1f2"/>
<rect x="491" y="432" width="14" height="15" fill="#cfe1f2"/>
<rect x="505" y="432" width="15" height="15" fill="#6caed6"/>
<rect x="520" y="432" width="14" height="15" fill="#8fc2de"/>
<rect x="534" y="432" width="14" height="15" fill="#8fc2de"/>
<rect x="548" y="432" width="15" height="15" fill="#58a1cf"/>
<rect x="563" y="432" width="14" height="15" fill="#89bedc"/>
<rect x="577" y="432" width="14" height="15" fill="#9ac8e0"/>
<rect x="591" y="432" width="15" height="15" fill="#c7dcef"/>
<rect x="606" y="432" width="14" height="15" fill="#c7dcef"/>
<rect x="620" y="432" width="15" height="15" fill="#4594c7"/>
<rect x="635" y="432" width="14" height="15" fill="#8fc2de"/>
<rect x="649" y="432" width="14" height="15" fill="#9ac8e0"/>
<rect x="663" y="432" width="15" height="15" fill="#add0e6"/>
<rect x="678" y="432" width="14" height="15" fill="#c7dcef"/>
<rect x="692" y="432" width="15" height="15" fill="#8fc2de"/>
<rect x="707" y="432" width="13" height="15" fill="#add0e6"/>
<rect x="160" y="447" width="14" height="14" fill="#89bedc"/>
<rect x="174" y="447" width="15" height="14" fill="#b5d4e9"/>
<rect x="189" y="447" width="14" height="14" fill="#a4cce3"/>
<rect x="203" y="447" width="14" height="14" fill="#a4cce3"/>
<rect x="217" y="447" width="15" height="14" fill="#71b1d7"/>
<rect x="232" y="447" width="14" height="14" fill="#77b5d9"/>
<rect x="246" y="447" width="15" height="14" fill="#b5d4e9"/>
<rect x="261" y="447" width="14" height="14" fill="#add0e6"/>
<rect x="275" y="447" width="14" height="14" fill="#8fc2de"/>
<rect x="289" y="447" width="15" height="14" fill="#8fc2de"/>
<rect x="304" y="447" width="14" height="14" fill="#71b1d7"/>
<rect x="318" y="447" width="14" height="14" fill="#b5d4e9"/>
<rect x="332" y="447" width="15" height="14" fill="#c3daee"/>
<rect x="347" y="447" width="14" height="14" fill="#b5d4e9"/>
<rect x="361" y="447" width="15" height="14" fill="#c3daee"/>
<rect x="376" y="447" width="14" height="14" fill="#add0e6"/>
<rect x="390" y="447" width="14" height="14" fill="#d9e8f5"/>
<rect x="404" y="447" width="15" height="14" fill="#e7f0fa"/>
<rect x="419" y="447" width="14" height="14" fill="#f7fbff"/>
<rect x="433" y="447" width="15" height="14" fill="#cfe1f2"/>
<rect x="448" y="447" width="14" height="14" fill="#d2e3f3"/>
<rect x="462" y="447" width="14" height="14" fill="#d2e3f3"/>
<rect x="476" y="447" width="15" height="14" fill="#dceaf6"/>
<rect x="491" y="447" width="14" height="14" fill="#d4e4f4"/>
<rect x="505" y="447" width="15" height="14" fill="#9fcae1"/>
<rect x="520" y="447" width="14" height="14" fill="#c3daee"/>
<rect x="534" y="447" width="14" height="14" fill="#add0e6"/>
<rect x="548" y="447" width="15" height="14" fill="#82bbdb"/>
<rect x="563" y="447" width="14" height="14" fill="#6caed6"/>
<rect x="577" y="447" width="14" height="14" fill="#89bedc"/>
<rect x="591" y="447" width="15" height="14" fill="#bad6eb"/>
<rect x="606" y="447" width="14" height="14" fill="#add0e6"/>
<rect x="620" y="447" width="15" height="14" fill="#4594c7"/>
<rect x="635" y="447" width="14" height="14" fill="#8fc2de"/>
<rect x="649" y="447" width="14" height="14" fill="#c3daee"/>
<rect x="663" y="447" width="15" height="14" fill="#bfd8ed"/>
<rect x="678" y="447" width="14" height="14" fill="#cfe1f2"/>
<rect x="692" y="447" width="15" height="14" fill="#add0e6"/>
<rect x="707" y="447" width="13" height="14" fill="#bfd8ed"/>
<rect x="160" y="461" width="14" height="14" fill="#82bbdb"/>
<rect x="174" y="461" width="15" height="14" fill="#b5d4e9"/>
<rect x="189" y="461" width="14" height="14" fill="#9ac8e0"/>
<rect x="203" y="461" width="14" height="14" fill="#9ac8e0"/>
<rect x="217" y="461" width="15" height="14" fill="#71b1d7"/>
<rect x="232" y="461" width="14" height="14" fill="#6caed6"/>
<rect x="246" y="461" width="15" height="14" fill="#b5d4e9"/>
<rect x="261" y="461" width="14" height="14" fill="#add0e6"/>
<rect x="275" y="461" width="14" height="14" fill="#8fc2de"/>
<rect x="289" y="461" width="15" height="14" fill="#8fc2de"/>
<rect x="304" y="461" width="14" height="14" fill="#71b1d7"/>
<rect x="318" y="461" width="14" height="14" fill="#add0e6"/>
<rect x="332" y="461" width="15" height="14" fill="#c3daee"/>
<rect x="347" y="461" width="14" height="14" fill="#bfd8ed"/>
<rect x="361" y="461" width="15" height="14" fill="#cfe1f2"/>
<rect x="376" y="461" width="14" height="14" fill="#add0e6"/>
<rect x="390" y="461" width="14" height="14" fill="#d4e4f4"/>
<rect x="404" y="461" width="15" height="14" fill="#f7fbff"/>
<rect x="419" y="461" width="14" height="14" fill="#e7f0fa"/>
<rect x="433" y="461" width="15" height="14" fill="#cfe1f2"/>
<rect x="448" y="461" width="14" height="14" fill="#d2e3f3"/>
<rect x="462" y="461" width="14" height="14" fill="#d2e3f3"/>
<rect x="476" y="461" width="15" height="14" fill="#d9e8f5"/>
<rect x="491" y="461" width="14" height="14" fill="#cfe1f2"/>
<rect x="505" y="461" width="15" height="14" fill="#82bbdb"/>
<rect x="520" y="461" width="14" height="14" fill="#b0d2e7"/>
<rect x="534" y="461" width="14" height="14" fill="#add0e6"/>
<rect x="548" y="461" width="15" height="14" fill="#6caed6"/>
<rect x="563" y="461" width="14" height="14" fill="#63a8d3"/>
<rect x="577" y="461" width="14" height="14" fill="#82bbdb"/>
<rect x="591" y="461" width="15" height="14" fill="#b5d4e9"/>
<rect x="606" y="461" width="14" height="14" fill="#add0e6"/>
<rect x="620" y="461" width="15" height="14" fill="#3989c1"/>
<rect x="635" y="461" width="14" height="14" fill="#82bbdb"/>
<rect x="649" y="461" width="14" height="14" fill="#b5d4e9"/>
<rect x="663" y="461" width="15" height="14" fill="#b5d4e9"/>
<rect x="678" y="461" width="14" height="14" fill="#cfe1f2"/>
<rect x="692" y="461" width="15" height="14" fill="#94c4df"/>
<rect x="707" y="461" width="13" height="14" fill="#add0e6"/>
<rect x="160" y="475" width="14" height="15" fill="#8fc2de"/>
<rect x="174" y="475" width="15" height="15" fill="#c7dcef"/>
<rect x="189" y="475" width="14" height="15" fill="#add0e6"/>
<rect x="203" y="475" width="14" height="15" fill="#add0e6"/>
<rect x="217" y="475" width="15" height="15" fill="#5da5d1"/>
<rect x="232" y="475" width="14" height="15" fill="#63a8d3"/>
<rect x="246" y="475" width="15" height="15" fill="#b5d4e9"/>
<rect x="261" y="475" width="14" height="15" fill="#add0e6"/>
<rect x="275" y="475" width="14" height="15" fill="#8fc2de"/>
<rect x="289" y="475" width="15" height="15" fill="#8fc2de"/>
<rect x="304" y="475" width="14" height="15" fill="#82bbdb"/>
<rect x="318" y="475" width="14" height="15" fill="#cfe1f2"/>
<rect x="332" y="475" width="15" height="15" fill="#cfe1f2"/>
<rect x="347" y="475" width="14" height="15" fill="#c3daee"/>
<rect x="361" y="475" width="15" height="15" fill="#cfe1f2"/>
<rect x="376" y="475" width="14" height="15" fill="#bad6eb"/>
<rect x="390" y="475" width="14" height="15" fill="#f7fbff"/>
<rect x="404" y="475" width="15" height="15" fill="#d4e4f4"/>
<rect x="419" y="475" width="14" height="15" fill="#d9e8f5"/>
<rect x="433" y="475" width="15" height="15" fill="#cfe1f2"/>
<rect x="448" y="475" width="14" height="15" fill="#c7dcef"/>
<rect x="462" y="475" width="14" height="15" fill="#c3daee"/>
<rect x="476" y="475" width="15" height="15" fill="#d2e3f3"/>
<rect x="491" y="475" width="14" height="15" fill="#d2e3f3"/>
<rect x="505" y="475" width="15" height="15" fill="#82bbdb"/>
<rect x="520" y="475" width="14" height="15" fill="#b5d4e9"/>
<rect x="534" y="475" width="14" height="15" fill="#9ac8e0"/>
<rect x="548" y="475" width="15" height="15" fill="#89bedc"/>
<rect x="563" y="475" width="14" height="15" fill="#5da5d1"/>
<rect x="577" y="475" width="14" height="15" fill="#89bedc"/>
<rect x="591" y="475" width="15" height="15" fill="#b5d4e9"/>
<rect x="606" y="475" width="14" height="15" fill="#add0e6"/>
<rect x="620" y="475" width="15" height="15" fill="#3989c1"/>
<rect x="635" y="475" width="14" height="15" fill="#71b1d7"/>
<rect x="649" y="475" width="14" height="15" fill="#a4cce3"/>
<rect x="663" y="475" width="15" height="15" fill="#a8cee4"/>
<rect x="678" y="475" width="14" height="15" fill="#bad6eb"/>
<rect x="692" y="475" width="15" height="15" fill="#8fc2de"/>
<rect x="707" y="475" width="13" height="15" fill="#add0e6"/>
<rect x="160" y="490" width="14" height="14" fill="#4594c7"/>
<rect x="174" y="490" width="15" height="14" fill="#94c4df"/>
<rect x="189" y="490" width="14" height="14" fill="#94c4df"/>
<rect x="203" y="490" width="14" height="14" fill="#9fcae1"/>
<rect x="217" y="490" width="15" height="14" fill="#4e9acb"/>
<rect x="232" y="490" width="14" height="14" fill="#6caed6"/>
<rect x="246" y="490" width="15" height="14" fill="#d2e3f3"/>
<rect x="261" y="490" width="14" height="14" fill="#d9e8f5"/>
<rect x="275" y="490" width="14" height="14" fill="#cfe1f2"/>
<rect x="289" y="490" width="15" height="14" fill="#a8cee4"/>
<rect x="304" y="490" width="14" height="14" fill="#a8cee4"/>
<rect x="318" y="490" width="14" height="14" fill="#c3daee"/>
<rect x="332" y="490" width="15" height="14" fill="#cddff1"/>
<rect x="347" y="490" width="14" height="14" fill="#cfe1f2"/>
<rect x="361" y="490" width="15" height="14" fill="#d4e4f4"/>
<rect x="376" y="490" width="14" height="14" fill="#f7fbff"/>
<rect x="390" y="490" width="14" height="14" fill="#bad6eb"/>
<rect x="404" y="490" width="15" height="14" fill="#add0e6"/>
<rect x="419" y="490" width="14" height="14" fill="#add0e6"/>
<rect x="433" y="490" width="15" height="14" fill="#cddff1"/>
<rect x="448" y="490" width="14" height="14" fill="#cfe1f2"/>
<rect x="462" y="490" width="14" height="14" fill="#b5d4e9"/>
<rect x="476" y="490" width="15" height="14" fill="#c3daee"/>
<rect x="491" y="490" width="14" height="14" fill="#d2e3f3"/>
<rect x="505" y="490" width="15" height="14" fill="#58a1cf"/>
<rect x="520" y="490" width="14" height="14" fill="#71b1d7"/>
<rect x="534" y="490" width="14" height="14" fill="#a8cee4"/>
<rect x="548" y="490" width="15" height="14" fill="#77b5d9"/>
<rect x="563" y="490" width="14" height="14" fill="#7cb7da"/>
<rect x="577" y="490" width="14" height="14" fill="#add0e6"/>
<rect x="591" y="490" width="15" height="14" fill="#caddf0"/>
<rect x="606" y="490" width="14" height="14" fill="#c7dcef"/>
<rect x="620" y="490" width="15" height="14" fill="#66abd4"/>
<rect x="635" y="490" width="14" height="14" fill="#a4cce3"/>
<rect x="649" y="490" width="14" height="14" fill="#add0e6"/>
<rect x="663" y="490" width="15" height="14" fill="#a8cee4"/>
<rect x="678" y="490" width="14" height="14" fill="#cfe1f2"/>
<rect x="692" y="490" width="15" height="14" fill="#add0e6"/>
<rect x="707" y="490" width="13" height="14" fill="#c3daee"/>
<rect x="160" y="504" width="14" height="15" fill="#6caed6"/>
<rect x="174" y="504" width="15" height="15" fill="#bad6eb"/>
<rect x="189" y="504" width="14" height="15" fill="#94c4df"/>
<rect x="203" y="504" width="14" height="15" fill="#9fcae1"/>
<rect x="217" y="504" width="15" height="15" fill="#4e9acb"/>
<rect x="232" y="504" width="14" height="15" fill="#5da5d1"/>
<rect x="246" y="504" width="15" height="15" fill="#cfe1f2"/>
<rect x="261" y="504" width="14" height="15" fill="#c7dcef"/>
<rect x="275" y="504" width="14" height="15" fill="#bfd8ed"/>
<rect x="289" y="504" width="15" height="15" fill="#a4cce3"/>
<rect x="304" y="504" width="14" height="15" fill="#8fc2de"/>
<rect x="318" y="504" width="14" height="15" fill="#cddff1"/>
<rect x="332" y="504" width="15" height="15" fill="#cfe1f2"/>
<rect x="347" y="504" width="14" height="15" fill="#cfe1f2"/>
<rect x="361" y="504" width="15" height="15" fill="#f7fbff"/>
<rect x="376" y="504" width="14" height="15" fill="#d4e4f4"/>
<rect x="390" y="504" width="14" height="15" fill="#cfe1f2"/>
<rect x="404" y="504" width="15" height="15" fill="#cfe1f2"/>
<rect x="419" y="504" width="14" height="15" fill="#c3daee"/>
<rect x="433" y="504" width="15" height="15" fill="#d9e8f5"/>
<rect x="448" y="504" width="14" height="15" fill="#d7e6f5"/>
<rect x="462" y="504" width="14" height="15" fill="#c3daee"/>
<rect x="476" y="504" width="15" height="15" fill="#c3daee"/>
<rect x="491" y="504" width="14" height="15" fill="#d2e3f3"/>
<rect x="505" y="504" width="15" height="15" fill="#58a1cf"/>
<rect x="520" y="504" width="14" height="15" fill="#7cb7da"/>
<rect x="534" y="504" width="14" height="15" fill="#9ac8e0"/>
<rect x="548" y="504" width="15" height="15" fill="#66abd4"/>
<rect x="563" y="504" width="14" height="15" fill="#71b1d7"/>
<rect x="577" y="504" width="14" height="15" fill="#94c4df"/>
<rect x="591" y="504" width="15" height="15" fill="#c7dcef"/>
<rect x="606" y="504" width="14" height="15" fill="#b5d4e9"/>
<rect x="620" y="504" width="15" height="15" fill="#3d8dc4"/>
<rect x="635" y="504" width="14" height="15" fill="#82bbdb"/>
<rect x="649" y="504" width="14" height="15" fill="#a4cce3"/>
<rect x="663" y="504" width="15" height="15" fill="#a4cce3"/>
<rect x="678" y="504" width="14" height="15" fill="#c7dcef"/>
<rect x="692" y="504" width="15" height="15" fill="#8fc2de"/>
<rect x="707" y="504" width="13" height="15" fill="#add0e6"/>
<rect x="160" y="519" width="14" height="14" fill="#3d8dc4"/>
<rect x="174" y="519" width="15" height="14" fill="#82bbdb"/>
<rect x="189" y="519" width="14" height="14" fill="#66abd4"/>
<rect x="203" y="519" width="14" height="14" fill="#71b1d7"/>
<rect x="217" y="519" width="15" height="14" fill="#2f7fbc"/>
<rect x="232" y="519" width="14" height="14" fill="#3d8dc4"/>
<rect x="246" y="519" width="15" height="14" fill="#b5d4e9"/>
<rect x="261" y="519" width="14" height="14" fill="#b5d4e9"/>
<rect x="275" y="519" width="14" height="14" fill="#add0e6"/>
<rect x="289" y="519" width="15" height="14" fill="#71b1d7"/>
<rect x="304" y="519" width="14" height="14" fill="#66abd4"/>
<rect x="318" y="519" width="14" height="14" fill="#d7e6f5"/>
<rect x="332" y="519" width="15" height="14" fill="#e1edf8"/>
<rect x="347" y="519" width="14" height="14" fill="#f7fbff"/>
<rect x="361" y="519" width="15" height="14" fill="#cfe1f2"/>
<rect x="376" y="519" width="14" height="14" fill="#cfe1f2"/>
<rect x="390" y="519" width="14" height="14" fill="#c3daee"/>
<rect x="404" y="519" width="15" height="14" fill="#bfd8ed"/>
<rect x="419" y="519" width="14" height="14" fill="#b5d4e9"/>
<rect x="433" y="519" width="15" height="14" fill="#c3daee"/>
<rect x="448" y="519" width="14" height="14" fill="#cddff1"/>
<rect x="462" y="519" width="14" height="14" fill="#c3daee"/>
<rect x="476" y="519" width="15" height="14" fill="#c3daee"/>
<rect x="491" y="519" width="14" height="14" fill="#d2e3f3"/>
<rect x="505" y="519" width="15" height="14" fill="#6caed6"/>
<rect x="520" y="519" width="14" height="14" fill="#82bbdb"/>
<rect x="534" y="519" width="14" height="14" fill="#add0e6"/>
<rect x="548" y="519" width="15" height="14" fill="#82bbdb"/>
<rect x="563" y="519" width="14" height="14" fill="#8fc2de"/>
<rect x="577" y="519" width="14" height="14" fill="#b5d4e9"/>
<rect x="591" y="519" width="15" height="14" fill="#d9e8f5"/>
<rect x="606" y="519" width="14" height="14" fill="#bfd8ed"/>
<rect x="620" y="519" width="15" height="14" fill="#5da5d1"/>
<rect x="635" y="519" width="14" height="14" fill="#82bbdb"/>
<rect x="649" y="519" width="14" height="14" fill="#add0e6"/>
<rect x="663" y="519" width="15" height="14" fill="#b5d4e9"/>
<rect x="678" y="519" width="14" height="14" fill="#c3daee"/>
<rect x="692" y="519" width="15" height="14" fill="#9ac8e0"/>
<rect x="707" y="519" width="13" height="14" fill="#b0d2e7"/>
<rect x="160" y="533" width="14" height="14" fill="#4e9acb"/>
<rect x="174" y="533" width="15" height="14" fill="#8fc2de"/>
<rect x="189" y="533" width="14" height="14" fill="#71b1d7"/>
<rect x="203" y="533" width="14" height="14" fill="#71b1d7"/>
<rect x="217" y="533" width="15" height="14" fill="#2f7fbc"/>
<rect x="232" y="533" width="14" height="14" fill="#4594c7"/>
<rect x="246" y="533" width="15" height="14" fill="#add0e6"/>
<rect x="261" y="533" width="14" height="14" fill="#add0e6"/>
<rect x="275" y="533" width="14" height="14" fill="#a4cce3"/>
<rect x="289" y="533" width="15" height="14" fill="#71b1d7"/>
<rect x="304" y="533" width="14" height="14" fill="#5da5d1"/>
<rect x="318" y="533" width="14" height="14" fill="#d4e4f4"/>
<rect x="332" y="533" width="15" height="14" fill="#f7fbff"/>
<rect x="347" y="533" width="14" height="14" fill="#e1edf8"/>
<rect x="361" y="533" width="15" height="14" fill="#cfe1f2"/>
<rect x="376" y="533" width="14" height="14" fill="#cddff1"/>
<rect x="390" y="533" width="14" height="14" fill="#cfe1f2"/>
<rect x="404" y="533" width="15" height="14" fill="#c3daee"/>
<rect x="419" y="533" width="14" height="14" fill="#c3daee"/>
<rect x="433" y="533" width="15" height="14" fill="#c3daee"/>
<rect x="448" y="533" width="14" height="14" fill="#bfd8ed"/>
<rect x="462" y="533" width="14" height="14" fill="#c3daee"/>
<rect x="476" y="533" width="15" height="14" fill="#c3daee"/>
<rect x="491" y="533" width="14" height="14" fill="#d2e3f3"/>
<rect x="505" y="533" width="15" height="14" fill="#71b1d7"/>
<rect x="520" y="533" width="14" height="14" fill="#8fc2de"/>
<rect x="534" y="533" width="14" height="14" fill="#b5d4e9"/>
<rect x="548" y="533" width="15" height="14" fill="#94c4df"/>
<rect x="563" y="533" width="14" height="14" fill="#82bbdb"/>
<rect x="577" y="533" width="14" height="14" fill="#add0e6"/>
<rect x="591" y="533" width="15" height="14" fill="#d2e3f3"/>
<rect x="606" y="533" width="14" height="14" fill="#b5d4e9"/>
<rect x="620" y="533" width="15" height="14" fill="#549fcd"/>
<rect x="635" y="533" width="14" height="14" fill="#77b5d9"/>
<rect x="649" y="533" width="14" height="14" fill="#add0e6"/>
<rect x="663" y="533" width="15" height="14" fill="#b0d2e7"/>
<rect x="678" y="533" width="14" height="14" fill="#bfd8ed"/>
<rect x="692" y="533" width="15" height="14" fill="#9ac8e0"/>
<rect x="707" y="533" width="13" height="14" fill="#b0d2e7"/>
<rect x="160" y="547" width="14" height="15" fill="#4e9acb"/>
<rect x="174" y="547" width="15" height="15" fill="#9ac8e0"/>
<rect x="189" y="547" width="14" height="15" fill="#71b1d7"/>
<rect x="203" y="547" width="14" height="15" fill="#71b1d7"/>
<rect x="217" y="547" width="15" height="15" fill="#2070b4"/>
<rect x="232" y="547" width="14" height="15" fill="#3d8dc4"/>
<rect x="246" y="547" width="15" height="15" fill="#add0e6"/>
<rect x="261" y="547" width="14" height="15" fill="#a8cee4"/>
<rect x="275" y="547" width="14" height="15" fill="#9ac8e0"/>
<rect x="289" y="547" width="15" height="15" fill="#71b1d7"/>
<rect x="304" y="547" width="14" height="15" fill="#71b1d7"/>
<rect x="318" y="547" width="14" height="15" fill="#f7fbff"/>
<rect x="332" y="547" width="15" height="15" fill="#d4e4f4"/>
<rect x="347" y="547" width="14" height="15" fill="#d7e6f5"/>
<rect x="361" y="547" width="15" height="15" fill="#cddff1"/>
<rect x="376" y="547" width="14" height="15" fill="#c3daee"/>
<rect x="390" y="547" width="14" height="15" fill="#cfe1f2"/>
<rect x="404" y="547" width="15" height="15" fill="#add0e6"/>
<rect x="419" y="547" width="14" height="15" fill="#b5d4e9"/>
<rect x="433" y="547" width="15" height="15" fill="#bad6eb"/>
<rect x="448" y="547" width="14" height="15" fill="#b0d2e7"/>
<rect x="462" y="547" width="14" height="15" fill="#bad6eb"/>
<rect x="476" y="547" width="15" height="15" fill="#bad6eb"/>
<rect x="491" y="547" width="14" height="15" fill="#c3daee"/>
<rect x="505" y="547" width="15" height="15" fill="#63a8d3"/>
<rect x="520" y="547" width="14" height="15" fill="#89bedc"/>
<rect x="534" y="547" width="14" height="15" fill="#8fc2de"/>
<rect x="548" y="547" width="15" height="15" fill="#8fc2de"/>
<rect x="563" y="547" width="14" height="15" fill="#82bbdb"/>
<rect x="577" y="547" width="14" height="15" fill="#b5d4e9"/>
<rect x="591" y="547" width="15" height="15" fill="#cddff1"/>
<rect x="606" y="547" width="14" height="15" fill="#b5d4e9"/>
<rect x="620" y="547" width="15" height="15" fill="#4594c7"/>
<rect x="635" y="547" width="14" height="15" fill="#6caed6"/>
<rect x="649" y="547" width="14" height="15" fill="#82bbdb"/>
<rect x="663" y="547" width="15" height="15" fill="#9ac8e0"/>
<rect x="678" y="547" width="14" height="15" fill="#add0e6"/>
<rect x="692" y="547" width="15" height="15" fill="#82bbdb"/>
<rect x="707" y="547" width="13" height="15" fill="#9fcae1"/>
<rect x="160" y="562" width="14" height="14" fill="#58a1cf"/>
<rect x="174" y="562" width="15" height="14" fill="#82bbdb"/>
<rect x="189" y="562" width="14" height="14" fill="#8fc2de"/>
<rect x="203" y="562" width="14" height="14" fill="#bad6eb"/>
<rect x="217" y="562" width="15" height="14" fill="#66abd4"/>
<rect x="232" y="562" width="14" height="14" fill="#a4cce3"/>
<rect x="246" y="562" width="15" height="14" fill="#cfe1f2"/>
<rect x="261" y="562" width="14" height="14" fill="#bfd8ed"/>
<rect x="275" y="562" width="14" height="14" fill="#c7dcef"/>
<rect x="289" y="562" width="15" height="14" fill="#d9e8f5"/>
<rect x="304" y="562" width="14" height="14" fill="#f7fbff"/>
<rect x="318" y="562" width="14" height="14" fill="#71b1d7"/>
<rect x="332" y="562" width="15" height="14" fill="#5da5d1"/>
<rect x="347" y="562" width="14" height="14" fill="#66abd4"/>
<rect x="361" y="562" width="15" height="14" fill="#8fc2de"/>
<rect x="376" y="562" width="14" height="14" fill="#a8cee4"/>
<rect x="390" y="562" width="14" height="14" fill="#82bbdb"/>
<rect x="404" y="562" width="15" height="14" fill="#71b1d7"/>
<rect x="419" y="562" width="14" height="14" fill="#71b1d7"/>
<rect x="433" y="562" width="15" height="14" fill="#9fcae1"/>
<rect x="448" y="562" width="14" height="14" fill="#add0e6"/>
<rect x="462" y="562" width="14" height="14" fill="#82bbdb"/>
<rect x="476" y="562" width="15" height="14" fill="#82bbdb"/>
<rect x="491" y="562" width="14" height="14" fill="#94c4df"/>
<rect x="505" y="562" width="15" height="14" fill="#3d8dc4"/>
<rect x="520" y="562" width="14" height="14" fill="#4e9acb"/>
<rect x="534" y="562" width="14" height="14" fill="#4e9acb"/>
<rect x="548" y="562" width="15" height="14" fill="#3d8dc4"/>
<rect x="563" y="562" width="14" height="14" fill="#66abd4"/>
<rect x="577" y="562" width="14" height="14" fill="#82bbdb"/>
<rect x="591" y="562" width="15" height="14" fill="#82bbdb"/>
<rect x="606" y="562" width="14" height="14" fill="#b0d2e7"/>
<rect x="620" y="562" width="15" height="14" fill="#3989c1"/>
<rect x="635" y="562" width="14" height="14" fill="#8fc2de"/>
<rect x="649" y="562" width="14" height="14" fill="#5da5d1"/>
<rect x="663" y="562" width="15" height="14" fill="#63a8d3"/>
<rect x="678" y="562" width="14" height="14" fill="#8fc2de"/>
<rect x="692" y="562" width="15" height="14" fill="#82bbdb"/>
<rect x="707" y="562" width="13" height="14" fill="#9fcae1"/>
<rect x="160" y="576" width="14" height="15" fill="#71b1d7"/>
<rect x="174" y="576" width="15" height="15" fill="#9ac8e0"/>
<rect x="189" y="576" width="14" height="15" fill="#9fcae1"/>
<rect x="203" y="576" width="14" height="15" fill="#c3daee"/>
<rect x="217" y="576" width="15" height="15" fill="#94c4df"/>
<rect x="232" y="576" width="14" height="15" fill="#bad6eb"/>
<rect x="246" y="576" width="15" height="15" fill="#d2e3f3"/>
<rect x="261" y="576" width="14" height="15" fill="#c3daee"/>
<rect x="275" y="576" width="14" height="15" fill="#c3daee"/>
<rect x="289" y="576" width="15" height="15" fill="#f7fbff"/>
<rect x="304" y="576" width="14" height="15" fill="#d9e8f5"/>
<rect x="318" y="576" width="14" height="15" fill="#71b1d7"/>
<rect x="332" y="576" width="15" height="15" fill="#71b1d7"/>
<rect x="347" y="576" width="14" height="15" fill="#71b1d7"/>
<rect x="361" y="576" width="15" height="15" fill="#a4cce3"/>
<rect x="376" y="576" width="14" height="15" fill="#a8cee4"/>
<rect x="390" y="576" width="14" height="15" fill="#8fc2de"/>
<rect x="404" y="576" width="15" height="15" fill="#8fc2de"/>
<rect x="419" y="576" width="14" height="15" fill="#8fc2de"/>
<rect x="433" y="576" width="15" height="15" fill="#b0d2e7"/>
<rect x="448" y="576" width="14" height="15" fill="#bad6eb"/>
<rect x="462" y="576" width="14" height="15" fill="#8fc2de"/>
<rect x="476" y="576" width="15" height="15" fill="#a4cce3"/>
<rect x="491" y="576" width="14" height="15" fill="#a4cce3"/>
<rect x="505" y="576" width="15" height="15" fill="#4594c7"/>
<rect x="520" y="576" width="14" height="15" fill="#58a1cf"/>
<rect x="534" y="576" width="14" height="15" fill="#58a1cf"/>
<rect x="548" y="576" width="15" height="15" fill="#3989c1"/>
<rect x="563" y="576" width="14" height="15" fill="#5da5d1"/>
<rect x="577" y="576" width="14" height="15" fill="#71b1d7"/>
<rect x="591" y="576" width="15" height="15" fill="#89bedc"/>
<rect x="606" y="576" width="14" height="15" fill="#add0e6"/>
<rect x="620" y="576" width="15" height="15" fill="#3d8dc4"/>
<rect x="635" y="576" width="14" height="15" fill="#8fc2de"/>
<rect x="649" y="576" width="14" height="15" fill="#71b1d7"/>
<rect x="663" y="576" width="15" height="15" fill="#71b1d7"/>
<rect x="678" y="576" width="14" height="15" fill="#a4cce3"/>
<rect x="692" y="576" width="15" height="15" fill="#82bbdb"/>
<rect x="707" y="576" width="13" height="15" fill="#9ac8e0"/>
<rect x="160" y="591" width="14" height="14" fill="#3d8dc4"/>
<rect x="174" y="591" width="15" height="14" fill="#77b5d9"/>
<rect x="189" y="591" width="14" height="14" fill="#6caed6"/>
<rect x="203" y="591" width="14" height="14" fill="#8fc2de"/>
<rect x="217" y="591" width="15" height="14" fill="#4e9acb"/>
<rect x="232" y="591" width="14" height="14" fill="#82bbdb"/>
<rect x="246" y="591" width="15" height="14" fill="#d4e4f4"/>
<rect x="261" y="591" width="14" height="14" fill="#e1edf8"/>
<rect x="275" y="591" width="14" height="14" fill="#f7fbff"/>
<rect x="289" y="591" width="15" height="14" fill="#c3daee"/>
<rect x="304" y="591" width="14" height="14" fill="#c7dcef"/>
<rect x="318" y="591" width="14" height="14" fill="#9ac8e0"/>
<rect x="332" y="591" width="15" height="14" fill="#a4cce3"/>
<rect x="347" y="591" width="14" height="14" fill="#add0e6"/>
<rect x="361" y="591" width="15" height="14" fill="#bfd8ed"/>
<rect x="376" y="591" width="14" height="14" fill="#cfe1f2"/>
<rect x="390" y="591" width="14" height="14" fill="#8fc2de"/>
<rect x="404" y="591" width="15" height="14" fill="#8fc2de"/>
<rect x="419" y="591" width="14" height="14" fill="#8fc2de"/>
<rect x="433" y="591" width="15" height="14" fill="#c3daee"/>
<rect x="448" y="591" width="14" height="14" fill="#caddf0"/>
<rect x="462" y="591" width="14" height="14" fill="#add0e6"/>
<rect x="476" y="591" width="15" height="14" fill="#add0e6"/>
<rect x="491" y="591" width="14" height="14" fill="#bad6eb"/>
<rect x="505" y="591" width="15" height="14" fill="#549fcd"/>
<rect x="520" y="591" width="14" height="14" fill="#549fcd"/>
<rect x="534" y="591" width="14" height="14" fill="#7cb7da"/>
<rect x="548" y="591" width="15" height="14" fill="#4e9acb"/>
<rect x="563" y="591" width="14" height="14" fill="#9ac8e0"/>
<rect x="577" y="591" width="14" height="14" fill="#add0e6"/>
<rect x="591" y="591" width="15" height="14" fill="#c3daee"/>
<rect x="606" y="591" width="14" height="14" fill="#cfe1f2"/>
<rect x="620" y="591" width="15" height="14" fill="#66abd4"/>
<rect x="635" y="591" width="14" height="14" fill="#bad6eb"/>
<rect x="649" y="591" width="14" height="14" fill="#8fc2de"/>
<rect x="663" y="591" width="15" height="14" fill="#9ac8e0"/>
<rect x="678" y="591" width="14" height="14" fill="#bad6eb"/>
<rect x="692" y="591" width="15" height="14" fill="#a8cee4"/>
<rect x="707" y="591" width="13" height="14" fill="#add0e6"/>
<rect x="160" y="605" width="14" height="14" fill="#4090c5"/>
<rect x="174" y="605" width="15" height="14" fill="#82bbdb"/>
<rect x="189" y="605" width="14" height="14" fill="#82bbdb"/>
<rect x="203" y="605" width="14" height="14" fill="#9ac8e0"/>
<rect x="217" y="605" width="15" height="14" fill="#549fcd"/>
<rect x="232" y="605" width="14" height="14" fill="#82bbdb"/>
<rect x="246" y="605" width="15" height="14" fill="#dceaf6"/>
<rect x="261" y="605" width="14" height="14" fill="#f7fbff"/>
<rect x="275" y="605" width="14" height="14" fill="#e1edf8"/>
<rect x="289" y="605" width="15" height="14" fill="#c3daee"/>
<rect x="304" y="605" width="14" height="14" fill="#bfd8ed"/>
<rect x="318" y="605" width="14" height="14" fill="#a8cee4"/>
<rect x="332" y="605" width="15" height="14" fill="#add0e6"/>
<rect x="347" y="605" width="14" height="14" fill="#b5d4e9"/>
<rect x="361" y="605" width="15" height="14" fill="#c7dcef"/>
<rect x="376" y="605" width="14" height="14" fill="#d9e8f5"/>
<rect x="390" y="605" width="14" height="14" fill="#add0e6"/>
<rect x="404" y="605" width="15" height="14" fill="#add0e6"/>
<rect x="419" y="605" width="14" height="14" fill="#add0e6"/>
<rect x="433" y="605" width="15" height="14" fill="#cddff1"/>
<rect x="448" y="605" width="14" height="14" fill="#d2e3f3"/>
<rect x="462" y="605" width="14" height="14" fill="#b5d4e9"/>
<rect x="476" y="605" width="15" height="14" fill="#bad6eb"/>
<rect x="491" y="605" width="14" height="14" fill="#cddff1"/>
<rect x="505" y="605" width="15" height="14" fill="#549fcd"/>
<rect x="520" y="605" width="14" height="14" fill="#5da5d1"/>
<rect x="534" y="605" width="14" height="14" fill="#8fc2de"/>
<rect x="548" y="605" width="15" height="14" fill="#58a1cf"/>
<rect x="563" y="605" width="14" height="14" fill="#82bbdb"/>
<rect x="577" y="605" width="14" height="14" fill="#add0e6"/>
<rect x="591" y="605" width="15" height="14" fill="#c3daee"/>
<rect x="606" y="605" width="14" height="14" fill="#cddff1"/>
<rect x="620" y="605" width="15" height="14" fill="#71b1d7"/>
<rect x="635" y="605" width="14" height="14" fill="#b5d4e9"/>
<rect x="649" y="605" width="14" height="14" fill="#a8cee4"/>
<rect x="663" y="605" width="15" height="14" fill="#a8cee4"/>
<rect x="678" y="605" width="14" height="14" fill="#caddf0"/>
<rect x="692" y="605" width="15" height="14" fill="#b0d2e7"/>
<rect x="707" y="605" width="13" height="14" fill="#b5d4e9"/>
<rect x="160" y="619" width="14" height="15" fill="#63a8d3"/>
<rect x="174" y="619" width="15" height="15" fill="#9ac8e0"/>
<rect x="189" y="619" width="14" height="15" fill="#9ac8e0"/>
<rect x="203" y="619" width="14" height="15" fill="#b5d4e9"/>
<rect x="217" y="619" width="15" height="15" fill="#6caed6"/>
<rect x="232" y="619" width="14" height="15" fill="#9ac8e0"/>
<rect x="246" y="619" width="15" height="15" fill="#f7fbff"/>
<rect x="261" y="619" width="14" height="15" fill="#dceaf6"/>
<rect x="275" y="619" width="14" height="15" fill="#d4e4f4"/>
<rect x="289" y="619" width="15" height="15" fill="#d2e3f3"/>
<rect x="304" y="619" width="14" height="15" fill="#cfe1f2"/>
<rect x="318" y="619" width="14" height="15" fill="#add0e6"/>
<rect x="332" y="619" width="15" height="15" fill="#add0e6"/>
<rect x="347" y="619" width="14" height="15" fill="#b5d4e9"/>
<rect x="361" y="619" width="15" height="15" fill="#cfe1f2"/>
<rect x="376" y="619" width="14" height="15" fill="#d2e3f3"/>
<rect x="390" y="619" width="14" height="15" fill="#b5d4e9"/>
<rect x="404" y="619" width="15" height="15" fill="#b5d4e9"/>
<rect x="419" y="619" width="14" height="15" fill="#b5d4e9"/>
<rect x="433" y="619" width="15" height="15" fill="#d2e3f3"/>
<rect x="448" y="619" width="14" height="15" fill="#d7e6f5"/>
<rect x="462" y="619" width="14" height="15" fill="#c3daee"/>
<rect x="476" y="619" width="15" height="15" fill="#c3daee"/>
<rect x="491" y="619" width="14" height="15" fill="#cfe1f2"/>
<rect x="505" y="619" width="15" height="15" fill="#66abd4"/>
<rect x="520" y="619" width="14" height="15" fill="#77b5d9"/>
<rect x="534" y="619" width="14" height="15" fill="#8fc2de"/>
<rect x="548" y="619" width="15" height="15" fill="#63a8d3"/>
<rect x="563" y="619" width="14" height="15" fill="#82bbdb"/>
<rect x="577" y="619" width="14" height="15" fill="#add0e6"/>
<rect x="591" y="619" width="15" height="15" fill="#c3daee"/>
<rect x="606" y="619" width="14" height="15" fill="#d4e4f4"/>
<rect x="620" y="619" width="15" height="15" fill="#66abd4"/>
<rect x="635" y="619" width="14" height="15" fill="#b5d4e9"/>
<rect x="649" y="619" width="14" height="15" fill="#add0e6"/>
<rect x="663" y="619" width="15" height="15" fill="#add0e6"/>
<rect x="678" y="619" width="14" height="15" fill="#cfe1f2"/>
<rect x="692" y="619" width="15" height="15" fill="#b5d4e9"/>
<rect x="707" y="619" width="13" height="15" fill="#c3daee"/>
<rect x="160" y="634" width="14" height="14" fill="#4997c9"/>
<rect x="174" y="634" width="15" height="14" fill="#5da5d1"/>
<rect x="189" y="634" width="14" height="14" fill="#9ac8e0"/>
<rect x="203" y="634" width="14" height="14" fill="#b0d2e7"/>
<rect x="217" y="634" width="15" height="14" fill="#bfd8ed"/>
<rect x="232" y="634" width="14" height="14" fill="#f7fbff"/>
<rect x="246" y="634" width="15" height="14" fill="#9ac8e0"/>
<rect x="261" y="634" width="14" height="14" fill="#82bbdb"/>
<rect x="275" y="634" width="14" height="14" fill="#82bbdb"/>
<rect x="289" y="634" width="15" height="14" fill="#bad6eb"/>
<rect x="304" y="634" width="14" height="14" fill="#a4cce3"/>
<rect x="318" y="634" width="14" height="14" fill="#3d8dc4"/>
<rect x="332" y="634" width="15" height="14" fill="#4594c7"/>
<rect x="347" y="634" width="14" height="14" fill="#3d8dc4"/>
<rect x="361" y="634" width="15" height="14" fill="#5da5d1"/>
<rect x="376" y="634" width="14" height="14" fill="#6caed6"/>
<rect x="390" y="634" width="14" height="14" fill="#63a8d3"/>
<rect x="404" y="634" width="15" height="14" fill="#6caed6"/>
<rect x="419" y="634" width="14" height="14" fill="#77b5d9"/>
<rect x="433" y="634" width="15" height="14" fill="#7cb7da"/>
<rect x="448" y="634" width="14" height="14" fill="#89bedc"/>
<rect x="462" y="634" width="14" height="14" fill="#66abd4"/>
<rect x="476" y="634" width="15" height="14" fill="#82bbdb"/>
<rect x="491" y="634" width="14" height="14" fill="#7cb7da"/>
<rect x="505" y="634" width="15" height="14" fill="#4f9bcb"/>
<rect x="520" y="634" width="14" height="14" fill="#4f9bcb"/>
<rect x="534" y="634" width="14" height="14" fill="#5da5d1"/>
<rect x="548" y="634" width="15" height="14" fill="#2f7fbc"/>
<rect x="563" y="634" width="14" height="14" fill="#3282be"/>
<rect x="577" y="634" width="14" height="14" fill="#4594c7"/>
<rect x="591" y="634" width="15" height="14" fill="#5da5d1"/>
<rect x="606" y="634" width="14" height="14" fill="#6caed6"/>
<rect x="620" y="634" width="15" height="14" fill="#3989c1"/>
<rect x="635" y="634" width="14" height="14" fill="#89bedc"/>
<rect x="649" y="634" width="14" height="14" fill="#82bbdb"/>
<rect x="663" y="634" width="15" height="14" fill="#63a8d3"/>
<rect x="678" y="634" width="14" height="14" fill="#9ac8e0"/>
<rect x="692" y="634" width="15" height="14" fill="#8fc2de"/>
<rect x="707" y="634" width="13" height="14" fill="#94c4df"/>
<rect x="160" y="648" width="14" height="15" fill="#77b5d9"/>
<rect x="174" y="648" width="15" height="15" fill="#6caed6"/>
<rect x="189" y="648" width="14" height="15" fill="#9ac8e0"/>
<rect x="203" y="648" width="14" height="15" fill="#9fcae1"/>
<rect x="217" y="648" width="15" height="15" fill="#f7fbff"/>
<rect x="232" y="648" width="14" height="15" fill="#bfd8ed"/>
<rect x="246" y="648" width="15" height="15" fill="#6caed6"/>
<rect x="261" y="648" width="14" height="15" fill="#549fcd"/>
<rect x="275" y="648" width="14" height="15" fill="#4e9acb"/>
<rect x="289" y="648" width="15" height="15" fill="#94c4df"/>
<rect x="304" y="648" width="14" height="15" fill="#66abd4"/>
<rect x="318" y="648" width="14" height="15" fill="#2070b4"/>
<rect x="332" y="648" width="15" height="15" fill="#2f7fbc"/>
<rect x="347" y="648" width="14" height="15" fill="#2f7fbc"/>
<rect x="361" y="648" width="15" height="15" fill="#4e9acb"/>
<rect x="376" y="648" width="14" height="15" fill="#4e9acb"/>
<rect x="390" y="648" width="14" height="15" fill="#5da5d1"/>
<rect x="404" y="648" width="15" height="15" fill="#71b1d7"/>
<rect x="419" y="648" width="14" height="15" fill="#71b1d7"/>
<rect x="433" y="648" width="15" height="15" fill="#63a8d3"/>
<rect x="448" y="648" width="14" height="15" fill="#6caed6"/>
<rect x="462" y="648" width="14" height="15" fill="#4e9acb"/>
<rect x="476" y="648" width="15" height="15" fill="#63a8d3"/>
<rect x="491" y="648" width="14" height="15" fill="#58a1cf"/>
<rect x="505" y="648" width="15" height="15" fill="#3282be"/>
<rect x="520" y="648" width="14" height="15" fill="#4090c5"/>
<rect x="534" y="648" width="14" height="15" fill="#3d8dc4"/>
<rect x="548" y="648" width="15" height="15" fill="#1561a9"/>
<rect x="563" y="648" width="14" height="15" fill="#1561a9"/>
<rect x="577" y="648" width="14" height="15" fill="#2070b4"/>
<rect x="591" y="648" width="15" height="15" fill="#3989c1"/>
<rect x="606" y="648" width="14" height="15" fill="#4e9acb"/>
<rect x="620" y="648" width="15" height="15" fill="#0f5aa3"/>
<rect x="635" y="648" width="14" height="15" fill="#4e9acb"/>
<rect x="649" y="648" width="14" height="15" fill="#549fcd"/>
<rect x="663" y="648" width="15" height="15" fill="#4090c5"/>
<rect x="678" y="648" width="14" height="15" fill="#71b1d7"/>
<rect x="692" y="648" width="15" height="15" fill="#549fcd"/>
<rect x="707" y="648" width="13" height="15" fill="#5da5d1"/>
<rect x="160" y="663" width="14" height="14" fill="#8fc2de"/>
<rect x="174" y="663" width="15" height="14" fill="#add0e6"/>
<rect x="189" y="663" width="14" height="14" fill="#d4e4f4"/>
<rect x="203" y="663" width="14" height="14" fill="#f7fbff"/>
<rect x="217" y="663" width="15" height="14" fill="#9fcae1"/>
<rect x="232" y="663" width="14" height="14" fill="#b0d2e7"/>
<rect x="246" y="663" width="15" height="14" fill="#b5d4e9"/>
<rect x="261" y="663" width="14" height="14" fill="#9ac8e0"/>
<rect x="275" y="663" width="14" height="14" fill="#8fc2de"/>
<rect x="289" y="663" width="15" height="14" fill="#c3daee"/>
<rect x="304" y="663" width="14" height="14" fill="#bad6eb"/>
<rect x="318" y="663" width="14" height="14" fill="#71b1d7"/>
<rect x="332" y="663" width="15" height="14" fill="#71b1d7"/>
<rect x="347" y="663" width="14" height="14" fill="#71b1d7"/>
<rect x="361" y="663" width="15" height="14" fill="#9fcae1"/>
<rect x="376" y="663" width="14" height="14" fill="#9fcae1"/>
<rect x="390" y="663" width="14" height="14" fill="#add0e6"/>
<rect x="404" y="663" width="15" height="14" fill="#9ac8e0"/>
<rect x="419" y="663" width="14" height="14" fill="#a4cce3"/>
<rect x="433" y="663" width="15" height="14" fill="#9fcae1"/>
<rect x="448" y="663" width="14" height="14" fill="#a4cce3"/>
<rect x="462" y="663" width="14" height="14" fill="#7cb7da"/>
<rect x="476" y="663" width="15" height="14" fill="#9fcae1"/>
<rect x="491" y="663" width="14" height="14" fill="#9fcae1"/>
<rect x="505" y="663" width="15" height="14" fill="#4e9acb"/>
<rect x="520" y="663" width="14" height="14" fill="#66abd4"/>
<rect x="534" y="663" width="14" height="14" fill="#63a8d3"/>
<rect x="548" y="663" width="15" height="14" fill="#4f9bcb"/>
<rect x="563" y="663" width="14" height="14" fill="#3686c0"/>
<rect x="577" y="663" width="14" height="14" fill="#58a1cf"/>
<rect x="591" y="663" width="15" height="14" fill="#71b1d7"/>
<rect x="606" y="663" width="14" height="14" fill="#82bbdb"/>
<rect x="620" y="663" width="15" height="14" fill="#2f7fbc"/>
<rect x="635" y="663" width="14" height="14" fill="#6caed6"/>
<rect x="649" y="663" width="14" height="14" fill="#71b1d7"/>
<rect x="663" y="663" width="15" height="14" fill="#63a8d3"/>
<rect x="678" y="663" width="14" height="14" fill="#9fcae1"/>
<rect x="692" y="663" width="15" height="14" fill="#82bbdb"/>
<rect x="707" y="663" width="13" height="14" fill="#9ac8e0"/>
<rect x="160" y="677" width="14" height="14" fill="#8fc2de"/>
<rect x="174" y="677" width="15" height="14" fill="#add0e6"/>
<rect x="189" y="677" width="14" height="14" fill="#f7fbff"/>
<rect x="203" y="677" width="14" height="14" fill="#d4e4f4"/>
<rect x="217" y="677" width="15" height="14" fill="#9ac8e0"/>
<rect x="232" y="677" width="14" height="14" fill="#9ac8e0"/>
<rect x="246" y="677" width="15" height="14" fill="#9ac8e0"/>
<rect x="261" y="677" width="14" height="14" fill="#82bbdb"/>
<rect x="275" y="677" width="14" height="14" fill="#6caed6"/>
<rect x="289" y="677" width="15" height="14" fill="#9fcae1"/>
<rect x="304" y="677" width="14" height="14" fill="#8fc2de"/>
<rect x="318" y="677" width="14" height="14" fill="#71b1d7"/>
<rect x="332" y="677" width="15" height="14" fill="#71b1d7"/>
<rect x="347" y="677" width="14" height="14" fill="#66abd4"/>
<rect x="361" y="677" width="15" height="14" fill="#94c4df"/>
<rect x="376" y="677" width="14" height="14" fill="#94c4df"/>
<rect x="390" y="677" width="14" height="14" fill="#add0e6"/>
<rect x="404" y="677" width="15" height="14" fill="#9ac8e0"/>
<rect x="419" y="677" width="14" height="14" fill="#a4cce3"/>
<rect x="433" y="677" width="15" height="14" fill="#89bedc"/>
<rect x="448" y="677" width="14" height="14" fill="#89bedc"/>
<rect x="462" y="677" width="14" height="14" fill="#6caed6"/>
<rect x="476" y="677" width="15" height="14" fill="#8fc2de"/>
<rect x="491" y="677" width="14" height="14" fill="#94c4df"/>
<rect x="505" y="677" width="15" height="14" fill="#4f9bcb"/>
<rect x="520" y="677" width="14" height="14" fill="#6caed6"/>
<rect x="534" y="677" width="14" height="14" fill="#71b1d7"/>
<rect x="548" y="677" width="15" height="14" fill="#58a1cf"/>
<rect x="563" y="677" width="14" height="14" fill="#2070b4"/>
<rect x="577" y="677" width="14" height="14" fill="#4e9acb"/>
<rect x="591" y="677" width="15" height="14" fill="#63a8d3"/>
<rect x="606" y="677" width="14" height="14" fill="#71b1d7"/>
<rect x="620" y="677" width="15" height="14" fill="#2777b8"/>
<rect x="635" y="677" width="14" height="14" fill="#58a1cf"/>
<rect x="649" y="677" width="14" height="14" fill="#71b1d7"/>
<rect x="663" y="677" width="15" height="14" fill="#5da5d1"/>
<rect x="678" y="677" width="14" height="14" fill="#94c4df"/>
<rect x="692" y="677" width="15" height="14" fill="#82bbdb"/>
<rect x="707" y="677" width="13" height="14" fill="#94c4df"/>
<rect x="160" y="691" width="14" height="15" fill="#c3daee"/>
<rect x="174" y="691" width="15" height="15" fill="#f7fbff"/>
<rect x="189" y="691" width="14" height="15" fill="#add0e6"/>
<rect x="203" y="691" width="14" height="15" fill="#add0e6"/>
<rect x="217" y="691" width="15" height="15" fill="#6caed6"/>
<rect x="232" y="691" width="14" height="15" fill="#5da5d1"/>
<rect x="246" y="691" width="15" height="15" fill="#9ac8e0"/>
<rect x="261" y="691" width="14" height="15" fill="#82bbdb"/>
<rect x="275" y="691" width="14" height="15" fill="#77b5d9"/>
<rect x="289" y="691" width="15" height="15" fill="#9ac8e0"/>
<rect x="304" y="691" width="14" height="15" fill="#82bbdb"/>
<rect x="318" y="691" width="14" height="15" fill="#9ac8e0"/>
<rect x="332" y="691" width="15" height="15" fill="#8fc2de"/>
<rect x="347" y="691" width="14" height="15" fill="#82bbdb"/>
<rect x="361" y="691" width="15" height="15" fill="#bad6eb"/>
<rect x="376" y="691" width="14" height="15" fill="#94c4df"/>
<rect x="390" y="691" width="14" height="15" fill="#c7dcef"/>
<rect x="404" y="691" width="15" height="15" fill="#b5d4e9"/>
<rect x="419" y="691" width="14" height="15" fill="#b5d4e9"/>
<rect x="433" y="691" width="15" height="15" fill="#bad6eb"/>
<rect x="448" y="691" width="14" height="15" fill="#a8cee4"/>
<rect x="462" y="691" width="14" height="15" fill="#8fc2de"/>
<rect x="476" y="691" width="15" height="15" fill="#9ac8e0"/>
<rect x="491" y="691" width="14" height="15" fill="#9ac8e0"/>
<rect x="505" y="691" width="15" height="15" fill="#4090c5"/>
<rect x="520" y="691" width="14" height="15" fill="#71b1d7"/>
<rect x="534" y="691" width="14" height="15" fill="#549fcd"/>
<rect x="548" y="691" width="15" height="15" fill="#4594c7"/>
<rect x="563" y="691" width="14" height="15" fill="#3989c1"/>
<rect x="577" y="691" width="14" height="15" fill="#58a1cf"/>
<rect x="591" y="691" width="15" height="15" fill="#77b5d9"/>
<rect x="606" y="691" width="14" height="15" fill="#82bbdb"/>
<rect x="620" y="691" width="15" height="15" fill="#125ea6"/>
<rect x="635" y="691" width="14" height="15" fill="#4e9acb"/>
<rect x="649" y="691" width="14" height="15" fill="#5da5d1"/>
<rect x="663" y="691" width="15" height="15" fill="#5da5d1"/>
<rect x="678" y="691" width="14" height="15" fill="#82bbdb"/>
<rect x="692" y="691" width="15" height="15" fill="#549fcd"/>
<rect x="707" y="691" width="13" height="15" fill="#71b1d7"/>
<rect x="160" y="706" width="14" height="14" fill="#f7fbff"/>
<rect x="174" y="706" width="15" height="14" fill="#c3daee"/>
<rect x="189" y="706" width="14" height="14" fill="#8fc2de"/>
<rect x="203" y="706" width="14" height="14" fill="#8fc2de"/>
<rect x="217" y="706" width="15" height="14" fill="#77b5d9"/>
<rect x="232" y="706" width="14" height="14" fill="#4997c9"/>
<rect x="246" y="706" width="15" height="14" fill="#63a8d3"/>
<rect x="261" y="706" width="14" height="14" fill="#4090c5"/>
<rect x="275" y="706" width="14" height="14" fill="#3d8dc4"/>
<rect x="289" y="706" width="15" height="14" fill="#71b1d7"/>
<rect x="304" y="706" width="14" height="14" fill="#58a1cf"/>
<rect x="318" y="706" width="14" height="14" fill="#4e9acb"/>
<rect x="332" y="706" width="15" height="14" fill="#4e9acb"/>
<rect x="347" y="706" width="14" height="14" fill="#3d8dc4"/>
<rect x="361" y="706" width="15" height="14" fill="#6caed6"/>
<rect x="376" y="706" width="14" height="14" fill="#4594c7"/>
<rect x="390" y="706" width="14" height="14" fill="#8fc2de"/>
<rect x="404" y="706" width="15" height="14" fill="#82bbdb"/>
<rect x="419" y="706" width="14" height="14" fill="#89bedc"/>
<rect x="433" y="706" width="15" height="14" fill="#82bbdb"/>
<rect x="448" y="706" width="14" height="14" fill="#66abd4"/>
<rect x="462" y="706" width="14" height="14" fill="#549fcd"/>
<rect x="476" y="706" width="15" height="14" fill="#66abd4"/>
<rect x="491" y="706" width="14" height="14" fill="#58a1cf"/>
<rect x="505" y="706" width="15" height="14" fill="#2070b4"/>
<rect x="520" y="706" width="14" height="14" fill="#549fcd"/>
<rect x="534" y="706" width="14" height="14" fill="#2070b4"/>
<rect x="548" y="706" width="15" height="14" fill="#1b69af"/>
<rect x="563" y="706" width="14" height="14" fill="#1865ac"/>
<rect x="577" y="706" width="14" height="14" fill="#2777b8"/>
<rect x="591" y="706" width="15" height="14" fill="#4997c9"/>
<rect x="606" y="706" width="14" height="14" fill="#549fcd"/>
<rect x="620" y="706" width="15" height="14" fill="#083674"/>
<rect x="635" y="706" width="14" height="14" fill="#2070b4"/>
<rect x="649" y="706" width="14" height="14" fill="#3686c0"/>
<rect x="663" y="706" width="15" height="14" fill="#3d8dc4"/>
<rect x="678" y="706" width="14" height="14" fill="#4f9bcb"/>
<rect x="692" y="706" width="15" height="14" fill="#2f7fbc"/>
<rect x="707" y="706" width="13" height="14" fill="#4e9acb"/>
</g>
<rect x="744" y="160" width="16" height="560" fill="url(#cb)"/>
<g fill="none" stroke-width="1.39" stroke-linejoin="miter" stroke-linecap="butt">
<polyline points="167.18,136.00 167.18,105.70 181.54,105.70 181.54,136.00" stroke="#008000"/>
<polyline points="195.90,136.00 195.90,116.70 210.26,116.70 210.26,136.00" stroke="#008000"/>
<polyline points="224.62,136.00 224.62,101.50 238.97,101.50 238.97,136.00" stroke="#008000"/>
<polyline points="203.08,116.70 203.08,86.10 231.79,86.10 231.79,101.50" stroke="#008000"/>
<polyline points="174.36,105.70 174.36,59.50 217.44,59.50 217.44,86.10" stroke="#008000"/>
<polyline points="267.69,136.00 267.69,123.00 282.05,123.00 282.05,136.00" stroke="#ff0000"/>
<polyline points="253.33,136.00 253.33,117.30 274.87,117.30 274.87,123.00" stroke="#ff0000"/>
<polyline points="296.41,136.00 296.41,116.40 310.77,116.40 310.77,136.00" stroke="#ff0000"/>
<polyline points="264.10,117.30 264.10,99.90 303.59,99.90 303.59,116.40" stroke="#ff0000"/>
<polyline points="339.49,136.00 339.49,123.50 353.85,123.50 353.85,136.00" stroke="#ff0000"/>
<polyline points="325.13,136.00 325.13,117.30 346.67,117.30 346.67,123.50" stroke="#ff0000"/>
<polyline points="368.21,136.00 368.21,115.50 382.56,115.50 382.56,136.00" stroke="#ff0000"/>
<polyline points="335.90,117.30 335.90,104.70 375.38,104.70 375.38,115.50" stroke="#ff0000"/>
<polyline points="411.28,136.00 411.28,125.50 425.64,125.50 425.64,136.00" stroke="#ff0000"/>
<polyline points="396.92,136.00 396.92,114.30 418.46,114.30 418.46,125.50" stroke="#ff0000"/>
<polyline points="440.00,136.00 440.00,120.75 454.36,120.75 454.36,136.00" stroke="#ff0000"/>
<polyline points="483.08,136.00 483.08,122.00 497.44,122.00 497.44,136.00" stroke="#ff0000"/>
<polyline points="468.72,136.00 468.72,117.80 490.26,117.80 490.26,122.00" stroke="#ff0000"/>
<polyline points="447.18,120.75 447.18,110.60 479.49,110.60 479.49,117.80" stroke="#ff0000"/>
<polyline points="407.69,114.30 407.69,102.70 463.33,102.70 463.33,110.60" stroke="#ff0000"/>
<polyline points="355.64,104.70 355.64,95.40 435.51,95.40 435.51,102.70" stroke="#ff0000"/>
<polyline points="283.85,99.90 283.85,71.20 395.58,71.20 395.58,95.40" stroke="#ff0000"/>
<polyline points="511.79,136.00 511.79,108.50 526.15,108.50 526.15,136.00" stroke="#ff0000"/>
<polyline points="540.51,136.00 540.51,90.10 554.87,90.10 554.87,136.00" stroke="#ff0000"/>
<polyline points="518.97,108.50 518.97,87.50 547.69,87.50 547.69,90.10" stroke="#ff0000"/>
<polyline points="597.95,136.00 597.95,113.40 612.31,113.40 612.31,136.00" stroke="#ff0000"/>
<polyline points="583.59,136.00 583.59,109.90 605.13,109.90 605.13,113.40" stroke="#ff0000"/>
<polyline points="569.23,136.00 569.23,100.30 594.36,100.30 594.36,109.90" stroke="#ff0000"/>
<polyline points="655.38,136.00 655.38,113.40 669.74,113.40 669.74,136.00" stroke="#ff0000"/>
<polyline points="698.46,136.00 698.46,122.00 712.82,122.00 712.82,136.00" stroke="#ff0000"/>
<polyline points="684.10,136.00 684.10,109.70 705.64,109.70 705.64,122.00" stroke="#ff0000"/>
<polyline points="662.56,113.40 662.56,105.00 694.87,105.00 694.87,109.70" stroke="#ff0000"/>
<polyline points="641.03,136.00 641.03,99.75 678.72,99.75 678.72,105.00" stroke="#ff0000"/>
<polyline points="626.67,136.00 626.67,77.35 659.87,77.35 659.87,99.75" stroke="#ff0000"/>
<polyline points="581.79,100.30 581.79,68.60 643.27,68.60 643.27,77.35" stroke="#ff0000"/>
<polyline points="533.33,87.50 533.33,54.40 612.53,54.40 612.53,68.60" stroke="#ff0000"/>
<polyline points="339.71,71.20 339.71,48.65 572.93,48.65 572.93,54.40" stroke="#ff0000"/>
<polyline points="195.90,59.50 195.90,6.50 456.32,6.50 456.32,48.65" stroke="#0000ff"/>
<polyline points="136.00,712.82 118.18,712.82 118.18,698.46 136.00,698.46" stroke="#008000"/>
<polyline points="136.00,684.10 124.65,684.10 124.65,669.74 136.00,669.74" stroke="#008000"/>
<polyline points="136.00,655.38 115.71,655.38 115.71,641.03 136.00,641.03" stroke="#008000"/>
<polyline points="124.65,676.92 106.65,676.92 106.65,648.21 115.71,648.21" stroke="#008000"/>
<polyline points="118.18,705.64 91.00,705.64 91.00,662.56 106.65,662.56" stroke="#008000"/>
<polyline points="136.00,612.31 128.35,612.31 128.35,597.95 136.00,597.95" stroke="#ff0000"/>
<polyline points="136.00,626.67 125.00,626.67 125.00,605.13 128.35,605.13" stroke="#ff0000"/>
<polyline points="136.00,583.59 124.47,583.59 124.47,569.23 136.00,569.23" stroke="#ff0000"/>
<polyline points="125.00,615.90 114.76,615.90 114.76,576.41 124.47,576.41" stroke="#ff0000"/>
<polyline points="136.00,540.51 128.65,540.51 128.65,526.15 136.00,526.15" stroke="#ff0000"/>
<polyline points="136.00,554.87 125.00,554.87 125.00,533.33 128.65,533.33" stroke="#ff0000"/>
<polyline points="136.00,511.79 123.94,511.79 123.94,497.44 136.00,497.44" stroke="#ff0000"/>
<polyline points="125.00,544.10 117.59,544.10 117.59,504.62 123.94,504.62" stroke="#ff0000"/>
<polyline points="136.00,468.72 129.82,468.72 129.82,454.36 136.00,454.36" stroke="#ff0000"/>
<polyline points="136.00,483.08 123.24,483.08 123.24,461.54 129.82,461.54" stroke="#ff0000"/>
<polyline points="136.00,440.00 127.03,440.00 127.03,425.64 136.00,425.64" stroke="#ff0000"/>
<polyline points="136.00,396.92 127.76,396.92 127.76,382.56 136.00,382.56" stroke="#ff0000"/>
<polyline points="136.00,411.28 125.29,411.28 125.29,389.74 127.76,389.74" stroke="#ff0000"/>
<polyline points="127.03,432.82 121.06,432.82 121.06,400.51 125.29,400.51" stroke="#ff0000"/>
<polyline points="123.24,472.31 116.41,472.31 116.41,416.67 121.06,416.67" stroke="#ff0000"/>
<polyline points="117.59,524.36 112.12,524.36 112.12,444.49 116.41,444.49" stroke="#ff0000"/>
<polyline points="114.76,596.15 97.88,596.15 97.88,484.42 112.12,484.42" stroke="#ff0000"/>
<polyline points="136.00,368.21 119.82,368.21 119.82,353.85 136.00,353.85" stroke="#ff0000"/>
<polyline points="136.00,339.49 109.00,339.49 109.00,325.13 136.00,325.13" stroke="#ff0000"/>
<polyline points="119.82,361.03 107.47,361.03 107.47,332.31 109.00,332.31" stroke="#ff0000"/>
<polyline points="136.00,282.05 122.71,282.05 122.71,267.69 136.00,267.69" stroke="#ff0000"/>
<polyline points="136.00,296.41 120.65,296.41 120.65,274.87 122.71,274.87" stroke="#ff0000"/>
<polyline points="136.00,310.77 115.00,310.77 115.00,285.64 120.65,285.64" stroke="#ff0000"/>
<polyline points="136.00,224.62 122.71,224.62 122.71,210.26 136.00,210.26" stroke="#ff0000"/>
<polyline points="136.00,181.54 127.76,181.54 127.76,167.18 136.00,167.18" stroke="#ff0000"/>
<polyline points="136.00,195.90 120.53,195.90 120.53,174.36 127.76,174.36" stroke="#ff0000"/>
<polyline points="122.71,217.44 117.76,217.44 117.76,185.13 120.53,185.13" stroke="#ff0000"/>
<polyline points="136.00,238.97 114.68,238.97 114.68,201.28 117.76,201.28" stroke="#ff0000"/>
<polyline points="136.00,253.33 101.50,253.33 101.50,220.13 114.68,220.13" stroke="#ff0000"/>
<polyline points="115.00,298.21 96.35,298.21 96.35,236.73 101.50,236.73" stroke="#ff0000"/>
<polyline points="107.47,346.67 88.00,346.67 88.00,267.47 96.35,267.47" stroke="#ff0000"/>
<polyline points="97.88,540.29 84.62,540.29 84.62,307.07 88.00,307.07" stroke="#ff0000"/>
<polyline points="91.00,684.10 59.82,684.10 59.82,423.68 84.62,423.68" stroke="#0000ff"/>
</g>
<g stroke="#000" stroke-width="0.7" shape-rendering="crispEdges">
<line x1="160" y1="107.5" x2="165.6" y2="107.5"/>
<line x1="720" y1="107.5" x2="714.4" y2="107.5"/>
<line x1="160" y1="79.5" x2="165.6" y2="79.5"/>
<line x1="720" y1="79.5" x2="714.4" y2="79.5"/>
<line x1="160" y1="50.5" x2="165.6" y2="50.5"/>
<line x1="720" y1="50.5" x2="714.4" y2="50.5"/>
<line x1="160" y1="22.5" x2="165.6" y2="22.5"/>
<line x1="720" y1="22.5" x2="714.4" y2="22.5"/>
<line x1="760" y1="658.5" x2="754.4" y2="658.5"/>
<line x1="760" y1="596.5" x2="754.4" y2="596.5"/>
<line x1="760" y1="534.5" x2="754.4" y2="534.5"/>
<line x1="760" y1="472.5" x2="754.4" y2="472.5"/>
<line x1="760" y1="410.5" x2="754.4" y2="410.5"/>
<line x1="760" y1="349.5" x2="754.4" y2="349.5"/>
<line x1="760" y1="287.5" x2="754.4" y2="287.5"/>
<line x1="760" y1="225.5" x2="754.4" y2="225.5"/>
<line x1="760" y1="163.5" x2="754.4" y2="163.5"/>
</g>
<g fill="none" stroke="#000" stroke-width="1.39">
<rect x="160.5" y="0.5" width="560" height="136"/>
<rect x="56.5" y="160.5" width="80" height="560"/>
<rect x="160.5" y="160.5" width="560" height="560"/>
<rect x="744.5" y="160.5" width="16" height="560"/>
</g>
<text x="129.1 138.6 144.2" y="142.50">0.0</text>
<text x="129.1 138.6 144.2" y="113.15">0.1</text>
<text x="129.1 138.6 144.2" y="84.65">0.2</text>
<text x="129.1 138.6 144.2" y="56.00">0.3</text>
<text x="129.1 138.6 144.2" y="26.90">0.4</text>
<text x="764.4 773.6 778.9 789.5" y="726.00">0.00</text>
<text x="764.4 773.6 778.9 789.5" y="664.18">0.05</text>
<text x="764.4 773.6 778.9 789.5" y="602.35">0.10</text>
<text x="764.4 773.6 778.9 789.5" y="540.53">0.15</text>
<text x="764.4 773.6 778.9 789.5" y="478.70">0.20</text>
<text x="764.4 773.6 778.9 789.5" y="416.88">0.25</text>
<text x="764.4 773.6 778.9 789.5" y="355.06">0.30</text>
<text x="764.4 773.6 778.9 789.5" y="293.23">0.35</text>
<text x="764.4 773.6 778.9 789.5" y="231.41">0.40</text>
<text x="764.4 773.6 778.9 789.5" y="169.59">0.45</text>
</svg>
</body></html>
